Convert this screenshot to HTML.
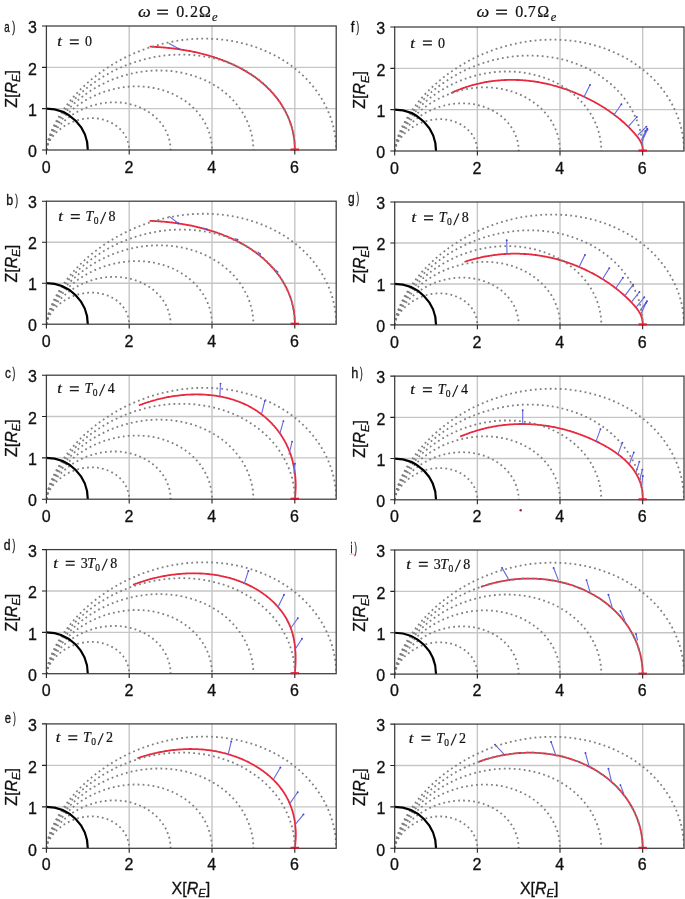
<!DOCTYPE html>
<html><head><meta charset="utf-8"><style>
html,body{margin:0;padding:0;background:#fff;}
svg{display:block;filter:blur(0.4px);}
text{stroke:#111;stroke-width:0.3px;}
text[font-family*="Serif"]{stroke-width:0.2px;}
</style></head><body>
<svg width="685" height="899" viewBox="0 0 685 899">
<rect width="685" height="899" fill="#fff"/>
<text transform="translate(138.70,16.90) scale(1.130,1.000)" x="-0.53" y="0" font-family='"Liberation Serif",serif' font-size="16" font-style="italic" fill="#111">ω</text>
<rect x="157.20" y="9.55" width="10.80" height="1.4" fill="#1a1a1a"/><rect x="157.20" y="13.20" width="10.80" height="1.4" fill="#1a1a1a"/>
<text transform="translate(176.80,16.90)" x="-0.61" y="0" font-family='"Liberation Serif",serif' font-size="16" fill="#111">0</text>
<text transform="translate(185.60,16.90)" x="-1.05" y="0" font-family='"Liberation Serif",serif' font-size="16" fill="#111">.</text>
<text transform="translate(190.60,16.90)" x="-0.70" y="0" font-family='"Liberation Serif",serif' font-size="16" fill="#111">2</text>
<text transform="translate(199.80,16.90)" x="-0.83" y="0" font-family='"Liberation Serif",serif' font-size="16" fill="#111">Ω</text>
<text transform="translate(212.30,20.50)" x="-0.38" y="0" font-family='"Liberation Serif",serif' font-size="12.5" font-style="italic" fill="#111">e</text>
<text transform="translate(477.00,16.90) scale(1.130,1.000)" x="-0.53" y="0" font-family='"Liberation Serif",serif' font-size="16" font-style="italic" fill="#111">ω</text>
<rect x="496.10" y="9.55" width="10.90" height="1.4" fill="#1a1a1a"/><rect x="496.10" y="13.20" width="10.90" height="1.4" fill="#1a1a1a"/>
<text transform="translate(515.80,16.90)" x="-0.61" y="0" font-family='"Liberation Serif",serif' font-size="16" fill="#111">0</text>
<text transform="translate(524.60,16.90)" x="-1.05" y="0" font-family='"Liberation Serif",serif' font-size="16" fill="#111">.</text>
<text transform="translate(528.90,16.90)" x="-1.05" y="0" font-family='"Liberation Serif",serif' font-size="16" fill="#111">7</text>
<text transform="translate(538.10,16.90)" x="-0.83" y="0" font-family='"Liberation Serif",serif' font-size="16" fill="#111">Ω</text>
<text transform="translate(551.00,20.50)" x="-0.38" y="0" font-family='"Liberation Serif",serif' font-size="12.5" font-style="italic" fill="#111">e</text>
<clipPath id="cL0"><rect x="46.40" y="26.00" width="289.80" height="124.00"/></clipPath>
<path d="M129.20,26.00V150.00M212.00,26.00V150.00M294.80,26.00V150.00M46.40,108.67H336.20M46.40,67.33H336.20" stroke="#c6c6c6" stroke-width="1.4" fill="none"/>
<g clip-path="url(#cL0)">
<path d="M149.6,46.7 150.6,46.7 151.5,46.7 152.4,46.8 153.4,46.8 154.3,46.9 155.3,46.9 156.2,47.0 157.2,47.0 158.2,47.1 159.1,47.1 160.1,47.2 161.0,47.3 162.0,47.4 163.0,47.4 164.0,47.5 164.9,47.6 165.9,47.7 166.9,47.8 167.8,47.9 168.8,48.0 169.8,48.1 170.8,48.2 171.8,48.3 172.7,48.4 173.7,48.5 174.7,48.7 175.7,48.8 176.7,48.9 177.7,49.1 178.7,49.2 179.7,49.3 180.6,49.5 181.6,49.6 182.6,49.8 183.6,50.0 184.6,50.1 185.6,50.3 186.6,50.5 187.6,50.6 188.6,50.8 189.6,51.0 190.5,51.2 191.5,51.4 192.5,51.6 193.5,51.8 194.5,52.0 195.5,52.2 196.5,52.4 197.5,52.7 198.4,52.9 199.4,53.1 200.4,53.4 201.4,53.6 202.4,53.8 203.4,54.1 204.3,54.4 205.3,54.6 206.3,54.9 207.3,55.2 208.3,55.4 209.2,55.7 210.2,56.0 211.2,56.3 212.1,56.6 213.1,56.9 214.1,57.2 215.0,57.5 216.0,57.8 217.0,58.1 217.9,58.5 218.9,58.8 219.8,59.1 220.8,59.5 221.7,59.8 222.7,60.2 223.6,60.5 224.5,60.9 225.5,61.3 226.4,61.7 227.3,62.0 228.3,62.4 229.2,62.8 230.1,63.2 231.0,63.6 231.9,64.0 232.9,64.4 233.8,64.9 234.7,65.3 235.6,65.7 236.5,66.2 237.4,66.6 238.3,67.1 239.1,67.5 240.0,68.0 240.9,68.4 241.8,68.9 242.7,69.4 243.5,69.9 244.4,70.4 245.2,70.9 246.1,71.4 246.9,71.9 247.8,72.4 248.6,72.9 249.5,73.5 250.3,74.0 251.1,74.5 251.9,75.1 252.8,75.6 253.6,76.2 254.4,76.8 255.2,77.3 256.0,77.9 256.8,78.5 257.6,79.1 258.3,79.7 259.1,80.3 259.9,80.9 260.6,81.6 261.4,82.2 262.1,82.8 262.9,83.5 263.6,84.1 264.4,84.8 265.1,85.4 265.8,86.1 266.5,86.8 267.2,87.4 267.9,88.1 268.6,88.8 269.3,89.5 270.0,90.2 270.7,90.9 271.3,91.6 272.0,92.4 272.7,93.1 273.3,93.8 273.9,94.6 274.6,95.3 275.2,96.1 275.8,96.8 276.4,97.6 277.0,98.4 277.6,99.1 278.2,99.9 278.8,100.7 279.3,101.5 279.9,102.3 280.4,103.1 281.0,103.9 281.5,104.7 282.0,105.6 282.5,106.4 283.0,107.2 283.5,108.1 284.0,108.9 284.5,109.8 285.0,110.6 285.4,111.5 285.9,112.4 286.3,113.2 286.7,114.1 287.2,115.0 287.6,115.9 288.0,116.8 288.4,117.7 288.7,118.6 289.1,119.5 289.5,120.4 289.8,121.3 290.1,122.2 290.5,123.2 290.8,124.1 291.1,125.0 291.4,126.0 291.7,126.9 291.9,127.9 292.2,128.8 292.4,129.8 292.7,130.8 292.9,131.8 293.1,132.7 293.3,133.7 293.5,134.7 293.7,135.7 293.8,136.7 294.0,137.7 294.1,138.7 294.2,139.7 294.4,140.7 294.5,141.7 294.6,142.8 294.6,143.8 294.7,144.8 294.7,145.8 294.8,146.9 294.8,147.9 294.8,149.0 294.8,150.0" stroke="#e8283c" stroke-width="1.8" fill="none" stroke-linejoin="round"/>
<path d="M169.20,43.40L178.70,48.70" stroke="#6468e2" stroke-width="1.1" fill="none" stroke-linecap="round"/>
<circle cx="178.70" cy="48.70" r="0.95" fill="#4a46cc"/>
<path d="M46.4,150.0 46.4,150.0 46.4,149.9 46.4,149.8 46.4,149.6 46.5,149.4 46.5,149.1 46.5,148.8 46.6,148.4 46.7,148.0 46.8,147.5 47.0,147.0 47.1,146.5 47.3,145.9 47.6,145.3 47.8,144.7 48.1,144.0 48.5,143.2 48.8,142.5 49.3,141.7 49.7,140.9 50.2,140.1 50.8,139.2 51.3,138.4 52.0,137.5 52.6,136.6 53.4,135.7 54.1,134.8 55.0,133.9 55.8,133.0 56.7,132.1 57.7,131.2 58.7,130.3 59.8,129.4 60.9,128.6 62.0,127.7 63.2,126.9 64.4,126.1 65.7,125.3 67.0,124.6 68.4,123.8 69.8,123.1 71.2,122.5 72.7,121.9 74.2,121.3 75.7,120.8 77.2,120.3 78.8,119.8 80.4,119.5 82.0,119.1 83.6,118.8 85.3,118.6 86.9,118.4 88.6,118.3 90.2,118.2 91.9,118.2 93.6,118.2 95.2,118.3 96.9,118.5 98.5,118.7 100.2,119.0 101.8,119.3 103.4,119.7 105.0,120.2 106.5,120.7 108.0,121.3 109.5,121.9 111.0,122.6 112.4,123.4 113.8,124.2 115.1,125.0 116.4,125.9 117.6,126.9 118.8,127.9 119.9,128.9 121.0,130.0 122.0,131.2 123.0,132.3 123.9,133.6 124.7,134.8 125.5,136.1 126.2,137.4 126.8,138.7 127.4,140.1 127.8,141.5 128.3,142.8 128.6,144.3 128.9,145.7 129.0,147.1 129.2,148.6 129.2,150.0" stroke="#808080" stroke-width="1.8" fill="none" stroke-dasharray="1.8 3.2"/>
<path d="M46.4,150.0 46.4,150.0 46.4,149.8 46.4,149.7 46.4,149.4 46.5,149.1 46.5,148.7 46.6,148.2 46.7,147.6 46.9,147.0 47.1,146.3 47.3,145.6 47.5,144.8 47.8,143.9 48.2,143.0 48.6,142.0 49.0,140.9 49.5,139.9 50.1,138.7 50.7,137.6 51.4,136.4 52.1,135.1 52.9,133.9 53.8,132.6 54.8,131.3 55.8,129.9 56.9,128.6 58.0,127.2 59.3,125.9 60.6,124.5 61.9,123.2 63.4,121.8 64.9,120.5 66.5,119.2 68.1,117.9 69.8,116.6 71.6,115.3 73.5,114.1 75.4,113.0 77.4,111.8 79.4,110.8 81.5,109.7 83.6,108.7 85.8,107.8 88.0,107.0 90.3,106.2 92.6,105.4 95.0,104.8 97.4,104.2 99.8,103.7 102.2,103.2 104.7,102.9 107.2,102.6 109.7,102.4 112.2,102.3 114.7,102.3 117.2,102.3 119.7,102.5 122.2,102.7 124.6,103.1 127.1,103.5 129.5,104.0 131.9,104.6 134.3,105.3 136.6,106.1 138.9,107.0 141.1,107.9 143.3,108.9 145.4,110.1 147.5,111.3 149.5,112.6 151.4,113.9 153.2,115.3 155.0,116.8 156.7,118.4 158.3,120.1 159.9,121.8 161.3,123.5 162.6,125.3 163.9,127.2 165.0,129.1 166.1,131.1 167.0,133.1 167.8,135.1 168.6,137.2 169.2,139.3 169.7,141.4 170.1,143.5 170.4,145.7 170.5,147.8 170.6,150.0" stroke="#808080" stroke-width="1.8" fill="none" stroke-dasharray="1.8 3.2"/>
<path d="M46.4,150.0 46.4,149.9 46.4,149.8 46.4,149.5 46.5,149.2 46.5,148.7 46.6,148.2 46.7,147.6 46.8,146.8 47.0,146.0 47.3,145.1 47.6,144.1 47.9,143.0 48.3,141.8 48.7,140.6 49.3,139.3 49.9,137.9 50.5,136.5 51.3,135.0 52.1,133.4 53.0,131.8 54.0,130.2 55.1,128.5 56.3,126.8 57.5,125.0 58.9,123.2 60.4,121.4 61.9,119.6 63.5,117.8 65.3,116.0 67.1,114.2 69.0,112.4 71.0,110.6 73.2,108.9 75.4,107.1 77.6,105.4 80.0,103.8 82.5,102.2 85.0,100.6 87.7,99.1 90.4,97.7 93.2,96.3 96.0,95.0 98.9,93.8 101.9,92.6 104.9,91.5 108.0,90.6 111.2,89.7 114.4,88.9 117.6,88.2 120.8,87.6 124.1,87.2 127.4,86.8 130.8,86.5 134.1,86.4 137.4,86.4 140.8,86.5 144.1,86.7 147.4,87.0 150.7,87.4 154.0,88.0 157.2,88.7 160.4,89.5 163.5,90.4 166.6,91.5 169.7,92.6 172.7,93.9 175.6,95.3 178.4,96.8 181.1,98.4 183.8,100.1 186.4,101.9 188.9,103.8 191.2,105.8 193.5,107.9 195.6,110.1 197.7,112.3 199.6,114.7 201.4,117.1 203.0,119.6 204.6,122.2 206.0,124.8 207.2,127.4 208.3,130.2 209.3,132.9 210.1,135.7 210.8,138.5 211.3,141.4 211.7,144.2 211.9,147.1 212.0,150.0" stroke="#808080" stroke-width="1.8" fill="none" stroke-dasharray="1.8 3.2"/>
<path d="M46.4,150.0 46.4,149.9 46.4,149.7 46.4,149.4 46.5,149.0 46.5,148.4 46.6,147.8 46.8,147.0 47.0,146.0 47.2,145.0 47.5,143.9 47.8,142.6 48.3,141.3 48.8,139.8 49.3,138.3 50.0,136.6 50.7,134.9 51.6,133.1 52.5,131.2 53.5,129.3 54.7,127.3 55.9,125.2 57.3,123.1 58.7,121.0 60.3,118.8 62.0,116.5 63.8,114.3 65.8,112.0 67.8,109.8 70.0,107.5 72.3,105.3 74.7,103.0 77.2,100.8 79.8,98.6 82.6,96.4 85.5,94.3 88.4,92.2 91.5,90.2 94.7,88.3 98.0,86.4 101.4,84.6 104.9,82.9 108.4,81.2 112.1,79.7 115.8,78.3 119.6,76.9 123.4,75.7 127.4,74.6 131.4,73.6 135.4,72.8 139.5,72.0 143.6,71.4 147.7,71.0 151.8,70.7 156.0,70.5 160.2,70.5 164.3,70.6 168.5,70.8 172.7,71.2 176.8,71.8 180.9,72.5 184.9,73.4 188.9,74.4 192.8,75.5 196.7,76.8 200.5,78.3 204.2,79.8 207.9,81.6 211.4,83.4 214.8,85.4 218.2,87.6 221.4,89.8 224.5,92.2 227.4,94.7 230.3,97.4 233.0,100.1 235.5,102.9 237.9,105.9 240.1,108.9 242.2,112.0 244.1,115.2 245.8,118.5 247.4,121.8 248.8,125.2 250.0,128.6 251.0,132.1 251.9,135.7 252.6,139.2 253.0,142.8 253.3,146.4 253.4,150.0" stroke="#808080" stroke-width="1.8" fill="none" stroke-dasharray="1.8 3.2"/>
<path d="M46.4,150.0 46.4,149.9 46.4,149.7 46.4,149.3 46.5,148.8 46.6,148.1 46.7,147.3 46.8,146.3 47.1,145.2 47.4,144.0 47.7,142.6 48.1,141.1 48.6,139.5 49.2,137.8 49.9,135.9 50.7,134.0 51.6,131.9 52.6,129.7 53.7,127.5 55.0,125.1 56.3,122.7 57.8,120.3 59.5,117.7 61.2,115.1 63.1,112.5 65.1,109.9 67.3,107.2 69.6,104.5 72.1,101.7 74.7,99.0 77.4,96.3 80.3,93.6 83.4,90.9 86.5,88.3 89.8,85.7 93.3,83.2 96.8,80.7 100.5,78.3 104.4,75.9 108.3,73.7 112.4,71.5 116.5,69.4 120.8,67.5 125.2,65.6 129.7,63.9 134.2,62.3 138.9,60.9 143.6,59.5 148.3,58.4 153.2,57.3 158.1,56.5 163.0,55.7 167.9,55.2 172.9,54.8 177.9,54.6 182.9,54.6 187.9,54.7 192.9,55.0 197.9,55.5 202.8,56.2 207.7,57.0 212.6,58.0 217.4,59.2 222.1,60.6 226.8,62.2 231.3,63.9 235.8,65.8 240.1,67.9 244.4,70.1 248.5,72.5 252.5,75.1 256.4,77.8 260.1,80.7 263.6,83.7 267.0,86.8 270.3,90.1 273.3,93.5 276.2,97.0 278.9,100.7 281.4,104.4 283.6,108.2 285.7,112.2 287.6,116.2 289.3,120.2 290.7,124.4 292.0,128.5 293.0,132.8 293.8,137.1 294.3,141.4 294.7,145.7 294.8,150.0" stroke="#808080" stroke-width="1.8" fill="none" stroke-dasharray="1.8 3.2"/>
<path d="M46.4,150.0 46.4,149.9 46.4,149.6 46.4,149.2 46.5,148.6 46.6,147.8 46.7,146.9 46.9,145.7 47.2,144.5 47.5,143.0 47.9,141.4 48.4,139.7 49.0,137.8 49.7,135.7 50.5,133.6 51.4,131.3 52.5,128.9 53.6,126.3 55.0,123.7 56.4,121.0 58.0,118.2 59.7,115.3 61.6,112.4 63.7,109.3 65.9,106.3 68.3,103.2 70.8,100.0 73.5,96.9 76.4,93.7 79.4,90.5 82.6,87.4 86.0,84.2 89.5,81.1 93.2,78.0 97.1,75.0 101.1,72.0 105.3,69.1 109.6,66.3 114.0,63.6 118.6,60.9 123.4,58.4 128.2,56.0 133.2,53.7 138.3,51.6 143.5,49.6 148.9,47.7 154.3,46.0 159.8,44.5 165.3,43.1 171.0,41.9 176.7,40.9 182.4,40.0 188.2,39.4 194.0,38.9 199.9,38.7 205.7,38.6 211.5,38.8 217.4,39.2 223.2,39.7 228.9,40.5 234.6,41.5 240.3,42.7 245.9,44.1 251.4,45.7 256.8,47.5 262.1,49.6 267.3,51.8 272.4,54.2 277.4,56.8 282.2,59.6 286.9,62.6 291.4,65.8 295.7,69.1 299.8,72.6 303.8,76.3 307.6,80.1 311.1,84.1 314.5,88.2 317.6,92.4 320.5,96.8 323.2,101.3 325.6,105.8 327.8,110.5 329.8,115.3 331.5,120.1 332.9,125.0 334.1,129.9 335.0,134.9 335.7,139.9 336.1,145.0 336.2,150.0" stroke="#808080" stroke-width="1.8" fill="none" stroke-dasharray="1.8 3.2"/>
<path d="M87.80,150.00 A41.40,41.33 0 0 0 46.40,108.67" stroke="#000" stroke-width="2.2" fill="none"/>
</g>
<rect x="46.40" y="26.00" width="289.80" height="124.00" stroke="#3c3c3c" stroke-width="1.25" fill="none"/>
<rect x="290.60" y="148.50" width="8.4" height="2.0" fill="#e0142e"/>
<path d="M46.40,150.00v4.4M129.20,150.00v4.4M212.00,150.00v4.4M294.80,150.00v4.4M46.40,150.00h-4.4M46.40,108.67h-4.4M46.40,67.33h-4.4M46.40,26.00h-4.4" stroke="#222" stroke-width="1.1" fill="none"/>
<text x="41.65" y="173.00" font-family='"Liberation Sans",sans-serif' font-size="16" fill="#111">0</text>
<text x="124.45" y="173.00" font-family='"Liberation Sans",sans-serif' font-size="16" fill="#111">2</text>
<text x="207.30" y="173.00" font-family='"Liberation Sans",sans-serif' font-size="16" fill="#111">4</text>
<text x="290.00" y="173.00" font-family='"Liberation Sans",sans-serif' font-size="16" fill="#111">6</text>
<text x="27.93" y="157.20" font-family='"Liberation Sans",sans-serif' font-size="16" fill="#111">0</text>
<text x="28.08" y="115.87" font-family='"Liberation Sans",sans-serif' font-size="16" fill="#111">1</text>
<text x="28.11" y="74.53" font-family='"Liberation Sans",sans-serif' font-size="16" fill="#111">2</text>
<text x="28.00" y="33.20" font-family='"Liberation Sans",sans-serif' font-size="16" fill="#111">3</text>
<text transform="translate(17.00,88.90) rotate(-90)" x="-18.84" y="0" font-family='"Liberation Sans",sans-serif' font-size="16" fill="#111">Z[<tspan font-style="italic">R</tspan><tspan font-style="italic" font-size="11.20" dy="3.3">E</tspan><tspan dy="-3.3">]</tspan></text>
<text transform="translate(4.65,32.30) scale(0.695,1.000)" x="-0.59" y="0" font-family='"Liberation Sans",sans-serif' font-size="14" fill="#111">a</text>
<text transform="translate(12.25,32.30) scale(0.647,1.000)" x="-0.08" y="0" font-family='"Liberation Sans",sans-serif' font-size="14" fill="#111">)</text>
<text transform="translate(58.00,46.40) scale(1.200,1.000)" x="-0.62" y="0" font-family='"Liberation Serif",serif' font-size="14" font-style="italic" fill="#111">t</text>
<rect x="69.80" y="39.33" width="9.00" height="1.35" fill="#1a1a1a"/><rect x="69.80" y="43.02" width="9.00" height="1.35" fill="#1a1a1a"/>
<text transform="translate(85.50,46.40)" x="-0.53" y="0" font-family='"Liberation Serif",serif' font-size="14" fill="#111">0</text>
<clipPath id="cL1"><rect x="46.40" y="201.20" width="289.80" height="123.00"/></clipPath>
<path d="M129.20,201.20V324.20M212.00,201.20V324.20M294.80,201.20V324.20M46.40,283.20H336.20M46.40,242.20H336.20" stroke="#c6c6c6" stroke-width="1.4" fill="none"/>
<g clip-path="url(#cL1)">
<path d="M149.6,220.8 150.6,220.9 151.5,220.9 152.5,221.0 153.4,221.0 154.4,221.0 155.3,221.1 156.3,221.1 157.2,221.2 158.2,221.3 159.2,221.3 160.1,221.4 161.1,221.5 162.1,221.6 163.0,221.6 164.0,221.7 165.0,221.8 165.9,221.9 166.9,222.0 167.9,222.1 168.9,222.2 169.9,222.3 170.8,222.4 171.8,222.5 172.8,222.7 173.8,222.8 174.8,222.9 175.8,223.0 176.7,223.2 177.7,223.3 178.7,223.5 179.7,223.6 180.7,223.8 181.7,223.9 182.7,224.1 183.7,224.3 184.6,224.4 185.6,224.6 186.6,224.8 187.6,225.0 188.6,225.1 189.6,225.3 190.6,225.5 191.6,225.7 192.6,225.9 193.5,226.2 194.5,226.4 195.5,226.6 196.5,226.8 197.5,227.0 198.5,227.3 199.5,227.5 200.4,227.8 201.4,228.0 202.4,228.3 203.4,228.5 204.4,228.8 205.3,229.0 206.3,229.3 207.3,229.6 208.2,229.9 209.2,230.2 210.2,230.5 211.2,230.8 212.1,231.1 213.1,231.4 214.0,231.7 215.0,232.0 216.0,232.3 216.9,232.6 217.9,233.0 218.8,233.3 219.8,233.7 220.7,234.0 221.7,234.4 222.6,234.7 223.5,235.1 224.5,235.5 225.4,235.8 226.3,236.2 227.3,236.6 228.2,237.0 229.1,237.4 230.0,237.8 231.0,238.2 231.9,238.6 232.8,239.0 233.7,239.5 234.6,239.9 235.5,240.3 236.4,240.8 237.3,241.2 238.2,241.7 239.0,242.1 239.9,242.6 240.8,243.1 241.7,243.6 242.5,244.0 243.4,244.5 244.3,245.0 245.1,245.5 246.0,246.0 246.8,246.6 247.7,247.1 248.5,247.6 249.3,248.1 250.2,248.7 251.0,249.2 251.8,249.8 252.6,250.3 253.5,250.9 254.3,251.4 255.1,252.0 255.9,252.6 256.6,253.2 257.4,253.8 258.2,254.4 259.0,255.0 259.8,255.6 260.5,256.2 261.3,256.9 262.0,257.5 262.8,258.1 263.5,258.8 264.3,259.4 265.0,260.1 265.7,260.7 266.4,261.4 267.1,262.1 267.8,262.8 268.5,263.5 269.2,264.2 269.9,264.9 270.6,265.6 271.2,266.3 271.9,267.0 272.6,267.7 273.2,268.5 273.9,269.2 274.5,269.9 275.1,270.7 275.7,271.5 276.3,272.2 276.9,273.0 277.5,273.8 278.1,274.5 278.7,275.3 279.3,276.1 279.8,276.9 280.4,277.7 280.9,278.5 281.5,279.3 282.0,280.1 282.5,281.0 283.0,281.8 283.5,282.6 284.0,283.5 284.5,284.3 284.9,285.2 285.4,286.0 285.9,286.9 286.3,287.7 286.7,288.6 287.1,289.5 287.6,290.4 288.0,291.3 288.4,292.1 288.7,293.0 289.1,293.9 289.5,294.8 289.8,295.8 290.1,296.7 290.5,297.6 290.8,298.5 291.1,299.5 291.4,300.4 291.7,301.3 291.9,302.3 292.2,303.2 292.4,304.2 292.7,305.1 292.9,306.1 293.1,307.1 293.3,308.0 293.5,309.0 293.7,310.0 293.8,311.0 294.0,312.0 294.1,313.0 294.3,314.0 294.4,315.0 294.5,316.0 294.6,317.0 294.6,318.0 294.7,319.1 294.7,320.1 294.8,321.1 294.8,322.1 294.8,323.2 294.8,324.2" stroke="#e8283c" stroke-width="1.8" fill="none" stroke-linejoin="round"/>
<path d="M169.20,216.40L178.20,223.20M204.50,228.20L207.00,229.50M235.00,238.50L237.50,239.80M258.00,252.00L260.00,254.00M276.00,270.00L277.50,272.00" stroke="#6468e2" stroke-width="1.1" fill="none" stroke-linecap="round"/>
<circle cx="178.20" cy="223.20" r="0.95" fill="#4a46cc"/><circle cx="207.00" cy="229.50" r="0.95" fill="#4a46cc"/><circle cx="237.50" cy="239.80" r="0.95" fill="#4a46cc"/><circle cx="260.00" cy="254.00" r="0.95" fill="#4a46cc"/><circle cx="277.50" cy="272.00" r="0.95" fill="#4a46cc"/>
<path d="M46.4,324.2 46.4,324.2 46.4,324.1 46.4,324.0 46.4,323.8 46.5,323.6 46.5,323.3 46.5,323.0 46.6,322.6 46.7,322.2 46.8,321.8 47.0,321.3 47.1,320.7 47.3,320.2 47.6,319.5 47.8,318.9 48.1,318.2 48.5,317.5 48.8,316.8 49.3,316.0 49.7,315.2 50.2,314.4 50.8,313.5 51.3,312.7 52.0,311.8 52.6,310.9 53.4,310.0 54.1,309.1 55.0,308.2 55.8,307.3 56.7,306.4 57.7,305.6 58.7,304.7 59.8,303.8 60.9,302.9 62.0,302.1 63.2,301.3 64.4,300.5 65.7,299.7 67.0,299.0 68.4,298.2 69.8,297.6 71.2,296.9 72.7,296.3 74.2,295.7 75.7,295.2 77.2,294.7 78.8,294.3 80.4,293.9 82.0,293.6 83.6,293.3 85.3,293.0 86.9,292.9 88.6,292.7 90.2,292.7 91.9,292.6 93.6,292.7 95.2,292.8 96.9,292.9 98.5,293.2 100.2,293.4 101.8,293.8 103.4,294.2 105.0,294.6 106.5,295.2 108.0,295.7 109.5,296.4 111.0,297.1 112.4,297.8 113.8,298.6 115.1,299.4 116.4,300.3 117.6,301.3 118.8,302.3 119.9,303.3 121.0,304.4 122.0,305.5 123.0,306.7 123.9,307.9 124.7,309.1 125.5,310.4 126.2,311.7 126.8,313.0 127.4,314.4 127.8,315.7 128.3,317.1 128.6,318.5 128.9,319.9 129.0,321.3 129.2,322.8 129.2,324.2" stroke="#808080" stroke-width="1.8" fill="none" stroke-dasharray="1.8 3.2"/>
<path d="M46.4,324.2 46.4,324.2 46.4,324.1 46.4,323.9 46.4,323.6 46.5,323.3 46.5,322.9 46.6,322.4 46.7,321.8 46.9,321.2 47.1,320.5 47.3,319.8 47.5,319.0 47.8,318.1 48.2,317.2 48.6,316.2 49.0,315.2 49.5,314.1 50.1,313.0 50.7,311.9 51.4,310.7 52.1,309.5 52.9,308.2 53.8,306.9 54.8,305.6 55.8,304.3 56.9,303.0 58.0,301.6 59.3,300.3 60.6,298.9 61.9,297.6 63.4,296.2 64.9,294.9 66.5,293.6 68.1,292.3 69.8,291.1 71.6,289.8 73.5,288.6 75.4,287.5 77.4,286.3 79.4,285.3 81.5,284.2 83.6,283.3 85.8,282.4 88.0,281.5 90.3,280.7 92.6,280.0 95.0,279.3 97.4,278.7 99.8,278.2 102.2,277.8 104.7,277.4 107.2,277.2 109.7,277.0 112.2,276.9 114.7,276.9 117.2,276.9 119.7,277.1 122.2,277.3 124.6,277.7 127.1,278.1 129.5,278.6 131.9,279.2 134.3,279.9 136.6,280.6 138.9,281.5 141.1,282.4 143.3,283.5 145.4,284.6 147.5,285.8 149.5,287.1 151.4,288.4 153.2,289.8 155.0,291.3 156.7,292.9 158.3,294.5 159.9,296.2 161.3,297.9 162.6,299.7 163.9,301.6 165.0,303.5 166.1,305.4 167.0,307.4 167.8,309.4 168.6,311.5 169.2,313.6 169.7,315.7 170.1,317.8 170.4,319.9 170.5,322.1 170.6,324.2" stroke="#808080" stroke-width="1.8" fill="none" stroke-dasharray="1.8 3.2"/>
<path d="M46.4,324.2 46.4,324.2 46.4,324.0 46.4,323.8 46.5,323.4 46.5,323.0 46.6,322.4 46.7,321.8 46.8,321.1 47.0,320.2 47.3,319.3 47.6,318.3 47.9,317.3 48.3,316.1 48.7,314.9 49.3,313.6 49.9,312.2 50.5,310.8 51.3,309.3 52.1,307.8 53.0,306.2 54.0,304.5 55.1,302.9 56.3,301.2 57.5,299.4 58.9,297.7 60.4,295.9 61.9,294.1 63.5,292.3 65.3,290.5 67.1,288.7 69.0,286.9 71.0,285.1 73.2,283.4 75.4,281.7 77.6,280.0 80.0,278.4 82.5,276.8 85.0,275.2 87.7,273.7 90.4,272.3 93.2,270.9 96.0,269.6 98.9,268.4 101.9,267.3 104.9,266.2 108.0,265.3 111.2,264.4 114.4,263.6 117.6,262.9 120.8,262.3 124.1,261.9 127.4,261.5 130.8,261.2 134.1,261.1 137.4,261.1 140.8,261.2 144.1,261.4 147.4,261.7 150.7,262.1 154.0,262.7 157.2,263.4 160.4,264.2 163.5,265.1 166.6,266.1 169.7,267.3 172.7,268.5 175.6,269.9 178.4,271.4 181.1,273.0 183.8,274.7 186.4,276.5 188.9,278.4 191.2,280.3 193.5,282.4 195.6,284.6 197.7,286.8 199.6,289.2 201.4,291.6 203.0,294.0 204.6,296.6 206.0,299.2 207.2,301.8 208.3,304.5 209.3,307.2 210.1,310.0 210.8,312.8 211.3,315.6 211.7,318.5 211.9,321.3 212.0,324.2" stroke="#808080" stroke-width="1.8" fill="none" stroke-dasharray="1.8 3.2"/>
<path d="M46.4,324.2 46.4,324.1 46.4,324.0 46.4,323.6 46.5,323.2 46.5,322.6 46.6,322.0 46.8,321.2 47.0,320.3 47.2,319.2 47.5,318.1 47.8,316.9 48.3,315.5 48.8,314.1 49.3,312.6 50.0,310.9 50.7,309.2 51.6,307.4 52.5,305.6 53.5,303.7 54.7,301.7 55.9,299.6 57.3,297.5 58.7,295.4 60.3,293.2 62.0,291.0 63.8,288.8 65.8,286.6 67.8,284.3 70.0,282.1 72.3,279.8 74.7,277.6 77.2,275.4 79.8,273.2 82.6,271.1 85.5,269.0 88.4,266.9 91.5,264.9 94.7,263.0 98.0,261.1 101.4,259.3 104.9,257.6 108.4,256.0 112.1,254.5 115.8,253.0 119.6,251.7 123.4,250.5 127.4,249.4 131.4,248.4 135.4,247.6 139.5,246.9 143.6,246.3 147.7,245.8 151.8,245.5 156.0,245.3 160.2,245.3 164.3,245.4 168.5,245.7 172.7,246.1 176.8,246.6 180.9,247.3 184.9,248.2 188.9,249.2 192.8,250.3 196.7,251.6 200.5,253.0 204.2,254.6 207.9,256.3 211.4,258.2 214.8,260.2 218.2,262.3 221.4,264.5 224.5,266.9 227.4,269.4 230.3,272.0 233.0,274.7 235.5,277.5 237.9,280.4 240.1,283.4 242.2,286.5 244.1,289.7 245.8,292.9 247.4,296.2 248.8,299.6 250.0,303.0 251.0,306.5 251.9,310.0 252.6,313.5 253.0,317.1 253.3,320.6 253.4,324.2" stroke="#808080" stroke-width="1.8" fill="none" stroke-dasharray="1.8 3.2"/>
<path d="M46.4,324.2 46.4,324.1 46.4,323.9 46.4,323.5 46.5,323.0 46.6,322.3 46.7,321.5 46.8,320.6 47.1,319.5 47.4,318.3 47.7,316.9 48.1,315.4 48.6,313.8 49.2,312.1 49.9,310.2 50.7,308.3 51.6,306.2 52.6,304.1 53.7,301.9 55.0,299.5 56.3,297.2 57.8,294.7 59.5,292.2 61.2,289.6 63.1,287.0 65.1,284.4 67.3,281.7 69.6,279.0 72.1,276.3 74.7,273.6 77.4,270.9 80.3,268.3 83.4,265.6 86.5,263.0 89.8,260.4 93.3,257.9 96.8,255.4 100.5,253.0 104.4,250.7 108.3,248.5 112.4,246.3 116.5,244.3 120.8,242.3 125.2,240.5 129.7,238.8 134.2,237.2 138.9,235.8 143.6,234.5 148.3,233.3 153.2,232.3 158.1,231.4 163.0,230.7 167.9,230.2 172.9,229.8 177.9,229.6 182.9,229.5 187.9,229.7 192.9,230.0 197.9,230.4 202.8,231.1 207.7,231.9 212.6,233.0 217.4,234.2 222.1,235.5 226.8,237.1 231.3,238.8 235.8,240.7 240.1,242.8 244.4,245.0 248.5,247.4 252.5,249.9 256.4,252.6 260.1,255.4 263.6,258.4 267.0,261.5 270.3,264.8 273.3,268.2 276.2,271.7 278.9,275.3 281.4,279.0 283.6,282.8 285.7,286.7 287.6,290.6 289.3,294.7 290.7,298.8 292.0,302.9 293.0,307.1 293.8,311.4 294.3,315.6 294.7,319.9 294.8,324.2" stroke="#808080" stroke-width="1.8" fill="none" stroke-dasharray="1.8 3.2"/>
<path d="M46.4,324.2 46.4,324.1 46.4,323.9 46.4,323.4 46.5,322.8 46.6,322.0 46.7,321.1 46.9,320.0 47.2,318.7 47.5,317.3 47.9,315.7 48.4,313.9 49.0,312.1 49.7,310.0 50.5,307.9 51.4,305.6 52.5,303.2 53.6,300.7 55.0,298.1 56.4,295.4 58.0,292.7 59.7,289.8 61.6,286.9 63.7,283.9 65.9,280.8 68.3,277.7 70.8,274.6 73.5,271.5 76.4,268.3 79.4,265.2 82.6,262.1 86.0,258.9 89.5,255.9 93.2,252.8 97.1,249.8 101.1,246.9 105.3,244.0 109.6,241.2 114.0,238.5 118.6,235.9 123.4,233.4 128.2,231.0 133.2,228.7 138.3,226.6 143.5,224.6 148.9,222.7 154.3,221.0 159.8,219.5 165.3,218.1 171.0,217.0 176.7,215.9 182.4,215.1 188.2,214.5 194.0,214.0 199.9,213.8 205.7,213.7 211.5,213.9 217.4,214.3 223.2,214.8 228.9,215.6 234.6,216.6 240.3,217.8 245.9,219.2 251.4,220.8 256.8,222.6 262.1,224.6 267.3,226.8 272.4,229.2 277.4,231.8 282.2,234.6 286.9,237.5 291.4,240.7 295.7,244.0 299.8,247.5 303.8,251.1 307.6,254.9 311.1,258.8 314.5,262.9 317.6,267.1 320.5,271.4 323.2,275.9 325.6,280.4 327.8,285.0 329.8,289.7 331.5,294.5 332.9,299.4 334.1,304.3 335.0,309.2 335.7,314.2 336.1,319.2 336.2,324.2" stroke="#808080" stroke-width="1.8" fill="none" stroke-dasharray="1.8 3.2"/>
<path d="M87.80,324.20 A41.40,41.00 0 0 0 46.40,283.20" stroke="#000" stroke-width="2.2" fill="none"/>
</g>
<rect x="46.40" y="201.20" width="289.80" height="123.00" stroke="#3c3c3c" stroke-width="1.25" fill="none"/>
<rect x="290.60" y="322.70" width="8.4" height="2.0" fill="#e0142e"/>
<path d="M46.40,324.20v4.4M129.20,324.20v4.4M212.00,324.20v4.4M294.80,324.20v4.4M46.40,324.20h-4.4M46.40,283.20h-4.4M46.40,242.20h-4.4M46.40,201.20h-4.4" stroke="#222" stroke-width="1.1" fill="none"/>
<text x="41.65" y="347.10" font-family='"Liberation Sans",sans-serif' font-size="16" fill="#111">0</text>
<text x="124.45" y="347.10" font-family='"Liberation Sans",sans-serif' font-size="16" fill="#111">2</text>
<text x="207.30" y="347.10" font-family='"Liberation Sans",sans-serif' font-size="16" fill="#111">4</text>
<text x="290.00" y="347.10" font-family='"Liberation Sans",sans-serif' font-size="16" fill="#111">6</text>
<text x="27.93" y="331.40" font-family='"Liberation Sans",sans-serif' font-size="16" fill="#111">0</text>
<text x="28.08" y="290.40" font-family='"Liberation Sans",sans-serif' font-size="16" fill="#111">1</text>
<text x="28.11" y="249.40" font-family='"Liberation Sans",sans-serif' font-size="16" fill="#111">2</text>
<text x="28.00" y="208.40" font-family='"Liberation Sans",sans-serif' font-size="16" fill="#111">3</text>
<text transform="translate(17.00,263.60) rotate(-90)" x="-18.84" y="0" font-family='"Liberation Sans",sans-serif' font-size="16" fill="#111">Z[<tspan font-style="italic">R</tspan><tspan font-style="italic" font-size="11.20" dy="3.3">E</tspan><tspan dy="-3.3">]</tspan></text>
<text transform="translate(7.05,205.10) scale(0.889,1.000)" x="-0.90" y="0" font-family='"Liberation Sans",sans-serif' font-size="14" fill="#111">b</text>
<text transform="translate(15.35,205.10) scale(0.593,1.000)" x="-0.08" y="0" font-family='"Liberation Sans",sans-serif' font-size="14" fill="#111">)</text>
<text transform="translate(59.00,221.10) scale(1.200,1.000)" x="-0.62" y="0" font-family='"Liberation Serif",serif' font-size="14" font-style="italic" fill="#111">t</text>
<rect x="70.80" y="214.02" width="9.00" height="1.35" fill="#1a1a1a"/><rect x="70.80" y="217.72" width="9.00" height="1.35" fill="#1a1a1a"/>
<text transform="translate(86.50,221.10)" x="-0.92" y="0" font-family='"Liberation Serif",serif' font-size="14" font-style="italic" fill="#111">T</text>
<text transform="translate(94.10,223.90)" x="-0.36" y="0" font-family='"Liberation Serif",serif' font-size="9.5" fill="#111">0</text>
<path d="M100.50,223.90L105.70,212.10" stroke="#1a1a1a" stroke-width="1.15"/>
<text transform="translate(109.10,221.10)" x="-0.53" y="0" font-family='"Liberation Serif",serif' font-size="14" fill="#111">8</text>
<clipPath id="cL2"><rect x="46.40" y="375.20" width="289.80" height="124.00"/></clipPath>
<path d="M129.20,375.20V499.20M212.00,375.20V499.20M294.80,375.20V499.20M46.40,457.87H336.20M46.40,416.53H336.20" stroke="#c6c6c6" stroke-width="1.4" fill="none"/>
<g clip-path="url(#cL2)">
<path d="M138.9,405.4 139.9,405.0 140.9,404.6 141.9,404.3 142.9,403.9 143.9,403.5 144.9,403.2 145.9,402.8 146.9,402.5 148.0,402.1 149.0,401.8 150.1,401.5 151.1,401.2 152.2,400.9 153.2,400.6 154.3,400.3 155.4,400.0 156.4,399.7 157.5,399.4 158.6,399.1 159.7,398.9 160.8,398.6 161.9,398.4 163.0,398.1 164.1,397.9 165.2,397.6 166.3,397.4 167.4,397.2 168.5,397.0 169.6,396.8 170.8,396.6 171.9,396.4 173.0,396.2 174.1,396.1 175.3,395.9 176.4,395.8 177.6,395.6 178.7,395.5 179.8,395.3 181.0,395.2 182.1,395.1 183.3,395.0 184.4,394.9 185.6,394.8 186.7,394.7 187.9,394.7 189.0,394.6 190.2,394.6 191.3,394.5 192.5,394.5 193.6,394.5 194.8,394.4 195.9,394.4 197.1,394.4 198.3,394.4 199.4,394.5 200.6,394.5 201.7,394.5 202.9,394.6 204.0,394.6 205.2,394.7 206.3,394.8 207.5,394.9 208.6,395.0 209.7,395.1 210.9,395.2 212.0,395.3 213.2,395.4 214.3,395.6 215.4,395.7 216.5,395.9 217.7,396.1 218.8,396.3 219.9,396.5 221.0,396.7 222.1,396.9 223.3,397.1 224.4,397.4 225.5,397.6 226.6,397.9 227.7,398.2 228.8,398.5 229.8,398.7 230.9,399.1 232.0,399.4 233.1,399.7 234.2,400.0 235.2,400.4 236.3,400.8 237.3,401.1 238.4,401.5 239.4,401.9 240.5,402.3 241.5,402.8 242.5,403.2 243.5,403.6 244.6,404.1 245.6,404.6 246.6,405.0 247.6,405.5 248.6,406.0 249.5,406.6 250.5,407.1 251.5,407.6 252.4,408.2 253.4,408.8 254.3,409.3 255.3,409.9 256.2,410.5 257.1,411.1 258.0,411.8 259.0,412.4 259.9,413.0 260.7,413.7 261.6,414.4 262.5,415.0 263.4,415.7 264.2,416.4 265.1,417.1 265.9,417.9 266.7,418.6 267.5,419.3 268.4,420.1 269.2,420.8 269.9,421.6 270.7,422.4 271.5,423.2 272.3,424.0 273.0,424.8 273.8,425.6 274.5,426.4 275.2,427.3 275.9,428.1 276.6,429.0 277.3,429.8 278.0,430.7 278.6,431.6 279.3,432.5 279.9,433.4 280.6,434.3 281.2,435.2 281.8,436.2 282.4,437.1 282.9,438.0 283.5,439.0 284.1,439.9 284.6,440.9 285.1,441.9 285.7,442.9 286.2,443.9 286.7,444.9 287.1,445.9 287.6,446.9 288.1,447.9 288.5,448.9 288.9,450.0 289.3,451.0 289.7,452.1 290.1,453.1 290.5,454.2 290.9,455.2 291.2,456.3 291.6,457.4 291.9,458.5 292.2,459.6 292.5,460.7 292.8,461.8 293.0,462.9 293.3,464.0 293.5,465.1 293.8,466.2 294.0,467.3 294.2,468.4 294.4,469.5 294.6,470.7 294.7,471.8 294.9,472.9 295.0,474.1 295.1,475.2 295.3,476.3 295.4,477.5 295.4,478.6 295.5,479.8 295.6,480.9 295.6,482.0 295.7,483.2 295.7,484.3 295.7,485.5 295.7,486.6 295.7,487.8 295.6,488.9 295.6,490.1 295.5,491.2 295.5,492.4 295.4,493.5 295.3,494.7 295.2,495.8 295.1,496.9 294.9,498.1 294.8,499.2" stroke="#e8283c" stroke-width="1.8" fill="none" stroke-linejoin="round"/>
<path d="M219.80,396.10L220.50,383.60M261.60,413.80L264.80,401.00M279.90,433.40L283.40,421.10M289.10,454.10L292.10,441.60M294.00,473.30L294.90,463.70" stroke="#6468e2" stroke-width="1.1" fill="none" stroke-linecap="round"/>
<circle cx="220.50" cy="383.60" r="0.95" fill="#4a46cc"/><circle cx="264.80" cy="401.00" r="0.95" fill="#4a46cc"/><circle cx="283.40" cy="421.10" r="0.95" fill="#4a46cc"/><circle cx="292.10" cy="441.60" r="0.95" fill="#4a46cc"/><circle cx="294.90" cy="463.70" r="0.95" fill="#4a46cc"/>
<path d="M46.4,499.2 46.4,499.2 46.4,499.1 46.4,499.0 46.4,498.8 46.5,498.6 46.5,498.3 46.5,498.0 46.6,497.6 46.7,497.2 46.8,496.7 47.0,496.2 47.1,495.7 47.3,495.1 47.6,494.5 47.8,493.9 48.1,493.2 48.5,492.4 48.8,491.7 49.3,490.9 49.7,490.1 50.2,489.3 50.8,488.4 51.3,487.6 52.0,486.7 52.6,485.8 53.4,484.9 54.1,484.0 55.0,483.1 55.8,482.2 56.7,481.3 57.7,480.4 58.7,479.5 59.8,478.6 60.9,477.8 62.0,476.9 63.2,476.1 64.4,475.3 65.7,474.5 67.0,473.8 68.4,473.0 69.8,472.3 71.2,471.7 72.7,471.1 74.2,470.5 75.7,470.0 77.2,469.5 78.8,469.0 80.4,468.7 82.0,468.3 83.6,468.0 85.3,467.8 86.9,467.6 88.6,467.5 90.2,467.4 91.9,467.4 93.6,467.4 95.2,467.5 96.9,467.7 98.5,467.9 100.2,468.2 101.8,468.5 103.4,468.9 105.0,469.4 106.5,469.9 108.0,470.5 109.5,471.1 111.0,471.8 112.4,472.6 113.8,473.4 115.1,474.2 116.4,475.1 117.6,476.1 118.8,477.1 119.9,478.1 121.0,479.2 122.0,480.4 123.0,481.5 123.9,482.8 124.7,484.0 125.5,485.3 126.2,486.6 126.8,487.9 127.4,489.3 127.8,490.7 128.3,492.0 128.6,493.5 128.9,494.9 129.0,496.3 129.2,497.8 129.2,499.2" stroke="#808080" stroke-width="1.8" fill="none" stroke-dasharray="1.8 3.2"/>
<path d="M46.4,499.2 46.4,499.2 46.4,499.0 46.4,498.9 46.4,498.6 46.5,498.3 46.5,497.9 46.6,497.4 46.7,496.8 46.9,496.2 47.1,495.5 47.3,494.8 47.5,494.0 47.8,493.1 48.2,492.2 48.6,491.2 49.0,490.1 49.5,489.1 50.1,487.9 50.7,486.8 51.4,485.6 52.1,484.3 52.9,483.1 53.8,481.8 54.8,480.5 55.8,479.1 56.9,477.8 58.0,476.4 59.3,475.1 60.6,473.7 61.9,472.4 63.4,471.0 64.9,469.7 66.5,468.4 68.1,467.1 69.8,465.8 71.6,464.5 73.5,463.3 75.4,462.2 77.4,461.0 79.4,460.0 81.5,458.9 83.6,457.9 85.8,457.0 88.0,456.2 90.3,455.4 92.6,454.6 95.0,454.0 97.4,453.4 99.8,452.9 102.2,452.4 104.7,452.1 107.2,451.8 109.7,451.6 112.2,451.5 114.7,451.5 117.2,451.5 119.7,451.7 122.2,451.9 124.6,452.3 127.1,452.7 129.5,453.2 131.9,453.8 134.3,454.5 136.6,455.3 138.9,456.2 141.1,457.1 143.3,458.1 145.4,459.3 147.5,460.5 149.5,461.8 151.4,463.1 153.2,464.5 155.0,466.0 156.7,467.6 158.3,469.3 159.9,471.0 161.3,472.7 162.6,474.5 163.9,476.4 165.0,478.3 166.1,480.3 167.0,482.3 167.8,484.3 168.6,486.4 169.2,488.5 169.7,490.6 170.1,492.7 170.4,494.9 170.5,497.0 170.6,499.2" stroke="#808080" stroke-width="1.8" fill="none" stroke-dasharray="1.8 3.2"/>
<path d="M46.4,499.2 46.4,499.1 46.4,499.0 46.4,498.7 46.5,498.4 46.5,497.9 46.6,497.4 46.7,496.8 46.8,496.0 47.0,495.2 47.3,494.3 47.6,493.3 47.9,492.2 48.3,491.0 48.7,489.8 49.3,488.5 49.9,487.1 50.5,485.7 51.3,484.2 52.1,482.6 53.0,481.0 54.0,479.4 55.1,477.7 56.3,476.0 57.5,474.2 58.9,472.4 60.4,470.6 61.9,468.8 63.5,467.0 65.3,465.2 67.1,463.4 69.0,461.6 71.0,459.8 73.2,458.1 75.4,456.3 77.6,454.6 80.0,453.0 82.5,451.4 85.0,449.8 87.7,448.3 90.4,446.9 93.2,445.5 96.0,444.2 98.9,443.0 101.9,441.8 104.9,440.7 108.0,439.8 111.2,438.9 114.4,438.1 117.6,437.4 120.8,436.8 124.1,436.4 127.4,436.0 130.8,435.7 134.1,435.6 137.4,435.6 140.8,435.7 144.1,435.9 147.4,436.2 150.7,436.6 154.0,437.2 157.2,437.9 160.4,438.7 163.5,439.6 166.6,440.7 169.7,441.8 172.7,443.1 175.6,444.5 178.4,446.0 181.1,447.6 183.8,449.3 186.4,451.1 188.9,453.0 191.2,455.0 193.5,457.1 195.6,459.3 197.7,461.5 199.6,463.9 201.4,466.3 203.0,468.8 204.6,471.4 206.0,474.0 207.2,476.6 208.3,479.4 209.3,482.1 210.1,484.9 210.8,487.7 211.3,490.6 211.7,493.4 211.9,496.3 212.0,499.2" stroke="#808080" stroke-width="1.8" fill="none" stroke-dasharray="1.8 3.2"/>
<path d="M46.4,499.2 46.4,499.1 46.4,498.9 46.4,498.6 46.5,498.2 46.5,497.6 46.6,497.0 46.8,496.2 47.0,495.2 47.2,494.2 47.5,493.1 47.8,491.8 48.3,490.5 48.8,489.0 49.3,487.5 50.0,485.8 50.7,484.1 51.6,482.3 52.5,480.4 53.5,478.5 54.7,476.5 55.9,474.4 57.3,472.3 58.7,470.2 60.3,468.0 62.0,465.7 63.8,463.5 65.8,461.2 67.8,459.0 70.0,456.7 72.3,454.5 74.7,452.2 77.2,450.0 79.8,447.8 82.6,445.6 85.5,443.5 88.4,441.4 91.5,439.4 94.7,437.5 98.0,435.6 101.4,433.8 104.9,432.1 108.4,430.4 112.1,428.9 115.8,427.5 119.6,426.1 123.4,424.9 127.4,423.8 131.4,422.8 135.4,422.0 139.5,421.2 143.6,420.6 147.7,420.2 151.8,419.9 156.0,419.7 160.2,419.7 164.3,419.8 168.5,420.0 172.7,420.4 176.8,421.0 180.9,421.7 184.9,422.6 188.9,423.6 192.8,424.7 196.7,426.0 200.5,427.5 204.2,429.0 207.9,430.8 211.4,432.6 214.8,434.6 218.2,436.8 221.4,439.0 224.5,441.4 227.4,443.9 230.3,446.6 233.0,449.3 235.5,452.1 237.9,455.1 240.1,458.1 242.2,461.2 244.1,464.4 245.8,467.7 247.4,471.0 248.8,474.4 250.0,477.8 251.0,481.3 251.9,484.9 252.6,488.4 253.0,492.0 253.3,495.6 253.4,499.2" stroke="#808080" stroke-width="1.8" fill="none" stroke-dasharray="1.8 3.2"/>
<path d="M46.4,499.2 46.4,499.1 46.4,498.9 46.4,498.5 46.5,498.0 46.6,497.3 46.7,496.5 46.8,495.5 47.1,494.4 47.4,493.2 47.7,491.8 48.1,490.3 48.6,488.7 49.2,487.0 49.9,485.1 50.7,483.2 51.6,481.1 52.6,478.9 53.7,476.7 55.0,474.3 56.3,471.9 57.8,469.5 59.5,466.9 61.2,464.3 63.1,461.7 65.1,459.1 67.3,456.4 69.6,453.7 72.1,450.9 74.7,448.2 77.4,445.5 80.3,442.8 83.4,440.1 86.5,437.5 89.8,434.9 93.3,432.4 96.8,429.9 100.5,427.5 104.4,425.1 108.3,422.9 112.4,420.7 116.5,418.6 120.8,416.7 125.2,414.8 129.7,413.1 134.2,411.5 138.9,410.1 143.6,408.7 148.3,407.6 153.2,406.5 158.1,405.7 163.0,404.9 167.9,404.4 172.9,404.0 177.9,403.8 182.9,403.8 187.9,403.9 192.9,404.2 197.9,404.7 202.8,405.4 207.7,406.2 212.6,407.2 217.4,408.4 222.1,409.8 226.8,411.4 231.3,413.1 235.8,415.0 240.1,417.1 244.4,419.3 248.5,421.7 252.5,424.3 256.4,427.0 260.1,429.9 263.6,432.9 267.0,436.0 270.3,439.3 273.3,442.7 276.2,446.2 278.9,449.9 281.4,453.6 283.6,457.4 285.7,461.4 287.6,465.4 289.3,469.4 290.7,473.6 292.0,477.7 293.0,482.0 293.8,486.3 294.3,490.6 294.7,494.9 294.8,499.2" stroke="#808080" stroke-width="1.8" fill="none" stroke-dasharray="1.8 3.2"/>
<path d="M46.4,499.2 46.4,499.1 46.4,498.8 46.4,498.4 46.5,497.8 46.6,497.0 46.7,496.1 46.9,494.9 47.2,493.7 47.5,492.2 47.9,490.6 48.4,488.9 49.0,487.0 49.7,484.9 50.5,482.8 51.4,480.5 52.5,478.1 53.6,475.5 55.0,472.9 56.4,470.2 58.0,467.4 59.7,464.5 61.6,461.6 63.7,458.5 65.9,455.5 68.3,452.4 70.8,449.2 73.5,446.1 76.4,442.9 79.4,439.7 82.6,436.6 86.0,433.4 89.5,430.3 93.2,427.2 97.1,424.2 101.1,421.2 105.3,418.3 109.6,415.5 114.0,412.8 118.6,410.1 123.4,407.6 128.2,405.2 133.2,402.9 138.3,400.8 143.5,398.8 148.9,396.9 154.3,395.2 159.8,393.7 165.3,392.3 171.0,391.1 176.7,390.1 182.4,389.2 188.2,388.6 194.0,388.1 199.9,387.9 205.7,387.8 211.5,388.0 217.4,388.4 223.2,388.9 228.9,389.7 234.6,390.7 240.3,391.9 245.9,393.3 251.4,394.9 256.8,396.7 262.1,398.8 267.3,401.0 272.4,403.4 277.4,406.0 282.2,408.8 286.9,411.8 291.4,415.0 295.7,418.3 299.8,421.8 303.8,425.5 307.6,429.3 311.1,433.3 314.5,437.4 317.6,441.6 320.5,446.0 323.2,450.5 325.6,455.0 327.8,459.7 329.8,464.5 331.5,469.3 332.9,474.2 334.1,479.1 335.0,484.1 335.7,489.1 336.1,494.2 336.2,499.2" stroke="#808080" stroke-width="1.8" fill="none" stroke-dasharray="1.8 3.2"/>
<path d="M87.80,499.20 A41.40,41.33 0 0 0 46.40,457.87" stroke="#000" stroke-width="2.2" fill="none"/>
</g>
<rect x="46.40" y="375.20" width="289.80" height="124.00" stroke="#3c3c3c" stroke-width="1.25" fill="none"/>
<rect x="290.60" y="497.70" width="8.4" height="2.0" fill="#e0142e"/>
<path d="M46.40,499.20v4.4M129.20,499.20v4.4M212.00,499.20v4.4M294.80,499.20v4.4M46.40,499.20h-4.4M46.40,457.87h-4.4M46.40,416.53h-4.4M46.40,375.20h-4.4" stroke="#222" stroke-width="1.1" fill="none"/>
<text x="41.65" y="521.70" font-family='"Liberation Sans",sans-serif' font-size="16" fill="#111">0</text>
<text x="124.45" y="521.70" font-family='"Liberation Sans",sans-serif' font-size="16" fill="#111">2</text>
<text x="207.30" y="521.70" font-family='"Liberation Sans",sans-serif' font-size="16" fill="#111">4</text>
<text x="290.00" y="521.70" font-family='"Liberation Sans",sans-serif' font-size="16" fill="#111">6</text>
<text x="27.93" y="506.40" font-family='"Liberation Sans",sans-serif' font-size="16" fill="#111">0</text>
<text x="28.08" y="465.07" font-family='"Liberation Sans",sans-serif' font-size="16" fill="#111">1</text>
<text x="28.11" y="423.73" font-family='"Liberation Sans",sans-serif' font-size="16" fill="#111">2</text>
<text x="28.00" y="382.40" font-family='"Liberation Sans",sans-serif' font-size="16" fill="#111">3</text>
<text transform="translate(17.00,438.10) rotate(-90)" x="-18.84" y="0" font-family='"Liberation Sans",sans-serif' font-size="16" fill="#111">Z[<tspan font-style="italic">R</tspan><tspan font-style="italic" font-size="11.20" dy="3.3">E</tspan><tspan dy="-3.3">]</tspan></text>
<text transform="translate(5.45,378.30) scale(0.845,1.000)" x="-0.59" y="0" font-family='"Liberation Sans",sans-serif' font-size="14" fill="#111">c</text>
<text transform="translate(12.45,378.30) scale(0.593,1.000)" x="-0.08" y="0" font-family='"Liberation Sans",sans-serif' font-size="14" fill="#111">)</text>
<text transform="translate(58.00,393.30) scale(1.200,1.000)" x="-0.62" y="0" font-family='"Liberation Serif",serif' font-size="14" font-style="italic" fill="#111">t</text>
<rect x="69.80" y="386.23" width="9.00" height="1.35" fill="#1a1a1a"/><rect x="69.80" y="389.93" width="9.00" height="1.35" fill="#1a1a1a"/>
<text transform="translate(85.50,393.30)" x="-0.92" y="0" font-family='"Liberation Serif",serif' font-size="14" font-style="italic" fill="#111">T</text>
<text transform="translate(93.10,396.10)" x="-0.36" y="0" font-family='"Liberation Serif",serif' font-size="9.5" fill="#111">0</text>
<path d="M99.50,396.10L104.70,384.30" stroke="#1a1a1a" stroke-width="1.15"/>
<text transform="translate(108.10,393.30)" x="-0.27" y="0" font-family='"Liberation Serif",serif' font-size="14" fill="#111">4</text>
<clipPath id="cL3"><rect x="46.40" y="549.60" width="289.80" height="124.10"/></clipPath>
<path d="M129.20,549.60V673.70M212.00,549.60V673.70M294.80,549.60V673.70M46.40,632.33H336.20M46.40,590.97H336.20" stroke="#c6c6c6" stroke-width="1.4" fill="none"/>
<g clip-path="url(#cL3)">
<path d="M133.1,584.8 134.1,584.4 135.1,584.0 136.1,583.6 137.2,583.3 138.2,582.9 139.3,582.5 140.3,582.2 141.4,581.8 142.4,581.5 143.5,581.1 144.5,580.8 145.6,580.5 146.7,580.2 147.8,579.8 148.8,579.5 149.9,579.2 151.0,579.0 152.1,578.7 153.2,578.4 154.3,578.1 155.4,577.8 156.5,577.6 157.6,577.3 158.7,577.1 159.8,576.9 161.0,576.6 162.1,576.4 163.2,576.2 164.3,576.0 165.5,575.8 166.6,575.6 167.7,575.4 168.9,575.2 170.0,575.1 171.1,574.9 172.3,574.7 173.4,574.6 174.6,574.5 175.7,574.3 176.8,574.2 178.0,574.1 179.1,574.0 180.3,573.9 181.4,573.8 182.6,573.7 183.8,573.6 184.9,573.6 186.1,573.5 187.2,573.4 188.4,573.4 189.5,573.4 190.7,573.3 191.8,573.3 193.0,573.3 194.1,573.3 195.3,573.3 196.5,573.3 197.6,573.4 198.8,573.4 199.9,573.5 201.1,573.5 202.2,573.6 203.4,573.6 204.5,573.7 205.7,573.8 206.8,573.9 208.0,574.0 209.1,574.1 210.3,574.3 211.4,574.4 212.5,574.6 213.7,574.7 214.8,574.9 216.0,575.1 217.1,575.2 218.2,575.4 219.4,575.6 220.5,575.9 221.6,576.1 222.7,576.3 223.8,576.6 225.0,576.8 226.1,577.1 227.2,577.4 228.3,577.6 229.4,577.9 230.5,578.2 231.6,578.6 232.7,578.9 233.8,579.2 234.9,579.6 236.0,579.9 237.0,580.3 238.1,580.7 239.2,581.1 240.3,581.5 241.3,581.9 242.4,582.3 243.4,582.8 244.5,583.2 245.5,583.7 246.6,584.1 247.6,584.6 248.6,585.1 249.7,585.6 250.7,586.1 251.7,586.6 252.7,587.2 253.7,587.7 254.7,588.3 255.7,588.8 256.7,589.4 257.7,590.0 258.6,590.6 259.6,591.2 260.5,591.8 261.5,592.5 262.4,593.1 263.3,593.8 264.3,594.4 265.2,595.1 266.1,595.8 267.0,596.5 267.8,597.2 268.7,597.9 269.6,598.6 270.4,599.4 271.3,600.1 272.1,600.9 272.9,601.6 273.7,602.4 274.5,603.2 275.3,604.0 276.1,604.8 276.8,605.6 277.6,606.4 278.3,607.3 279.0,608.1 279.7,609.0 280.4,609.9 281.1,610.7 281.8,611.6 282.4,612.5 283.1,613.4 283.7,614.3 284.3,615.3 284.9,616.2 285.5,617.1 286.0,618.1 286.6,619.0 287.1,620.0 287.6,621.0 288.1,622.0 288.6,623.0 289.1,624.0 289.5,625.0 290.0,626.0 290.4,627.1 290.8,628.1 291.2,629.2 291.5,630.2 291.9,631.3 292.2,632.4 292.5,633.5 292.8,634.6 293.1,635.7 293.3,636.8 293.6,637.9 293.8,639.0 294.0,640.2 294.2,641.3 294.4,642.4 294.6,643.6 294.8,644.7 294.9,645.9 295.0,647.0 295.1,648.2 295.2,649.3 295.3,650.5 295.4,651.6 295.5,652.8 295.5,654.0 295.6,655.1 295.6,656.3 295.6,657.5 295.6,658.6 295.6,659.8 295.6,661.0 295.6,662.2 295.5,663.3 295.5,664.5 295.4,665.6 295.4,666.8 295.3,668.0 295.2,669.1 295.1,670.3 295.0,671.4 294.9,672.6 294.8,673.7" stroke="#e8283c" stroke-width="1.8" fill="none" stroke-linejoin="round"/>
<path d="M244.30,583.70L248.40,570.90M278.20,606.70L284.00,594.80M291.00,627.80L297.80,618.20M294.90,649.60L302.00,638.80" stroke="#6468e2" stroke-width="1.1" fill="none" stroke-linecap="round"/>
<circle cx="248.40" cy="570.90" r="0.95" fill="#4a46cc"/><circle cx="284.00" cy="594.80" r="0.95" fill="#4a46cc"/><circle cx="297.80" cy="618.20" r="0.95" fill="#4a46cc"/><circle cx="302.00" cy="638.80" r="0.95" fill="#4a46cc"/>
<path d="M46.4,673.7 46.4,673.7 46.4,673.6 46.4,673.5 46.4,673.3 46.5,673.1 46.5,672.8 46.5,672.5 46.6,672.1 46.7,671.7 46.8,671.2 47.0,670.7 47.1,670.2 47.3,669.6 47.6,669.0 47.8,668.3 48.1,667.7 48.5,666.9 48.8,666.2 49.3,665.4 49.7,664.6 50.2,663.8 50.8,662.9 51.3,662.1 52.0,661.2 52.6,660.3 53.4,659.4 54.1,658.5 55.0,657.6 55.8,656.7 56.7,655.8 57.7,654.9 58.7,654.0 59.8,653.1 60.9,652.3 62.0,651.4 63.2,650.6 64.4,649.8 65.7,649.0 67.0,648.2 68.4,647.5 69.8,646.8 71.2,646.2 72.7,645.6 74.2,645.0 75.7,644.4 77.2,644.0 78.8,643.5 80.4,643.1 82.0,642.8 83.6,642.5 85.3,642.3 86.9,642.1 88.6,641.9 90.2,641.9 91.9,641.9 93.6,641.9 95.2,642.0 96.9,642.2 98.5,642.4 100.2,642.7 101.8,643.0 103.4,643.4 105.0,643.9 106.5,644.4 108.0,645.0 109.5,645.6 111.0,646.3 112.4,647.1 113.8,647.9 115.1,648.7 116.4,649.6 117.6,650.6 118.8,651.6 119.9,652.6 121.0,653.7 122.0,654.9 123.0,656.0 123.9,657.2 124.7,658.5 125.5,659.8 126.2,661.1 126.8,662.4 127.4,663.8 127.8,665.1 128.3,666.5 128.6,668.0 128.9,669.4 129.0,670.8 129.2,672.3 129.2,673.7" stroke="#808080" stroke-width="1.8" fill="none" stroke-dasharray="1.8 3.2"/>
<path d="M46.4,673.7 46.4,673.7 46.4,673.5 46.4,673.4 46.4,673.1 46.5,672.8 46.5,672.4 46.6,671.9 46.7,671.3 46.9,670.7 47.1,670.0 47.3,669.3 47.5,668.5 47.8,667.6 48.2,666.7 48.6,665.7 49.0,664.6 49.5,663.6 50.1,662.4 50.7,661.3 51.4,660.1 52.1,658.8 52.9,657.6 53.8,656.3 54.8,654.9 55.8,653.6 56.9,652.3 58.0,650.9 59.3,649.5 60.6,648.2 61.9,646.8 63.4,645.5 64.9,644.1 66.5,642.8 68.1,641.5 69.8,640.3 71.6,639.0 73.5,637.8 75.4,636.6 77.4,635.5 79.4,634.4 81.5,633.4 83.6,632.4 85.8,631.5 88.0,630.6 90.3,629.8 92.6,629.1 95.0,628.4 97.4,627.8 99.8,627.3 102.2,626.9 104.7,626.5 107.2,626.3 109.7,626.1 112.2,626.0 114.7,625.9 117.2,626.0 119.7,626.2 122.2,626.4 124.6,626.7 127.1,627.2 129.5,627.7 131.9,628.3 134.3,629.0 136.6,629.8 138.9,630.6 141.1,631.6 143.3,632.6 145.4,633.7 147.5,634.9 149.5,636.2 151.4,637.6 153.2,639.0 155.0,640.5 156.7,642.1 158.3,643.7 159.9,645.4 161.3,647.2 162.6,649.0 163.9,650.9 165.0,652.8 166.1,654.8 167.0,656.8 167.8,658.8 168.6,660.9 169.2,663.0 169.7,665.1 170.1,667.2 170.4,669.4 170.5,671.5 170.6,673.7" stroke="#808080" stroke-width="1.8" fill="none" stroke-dasharray="1.8 3.2"/>
<path d="M46.4,673.7 46.4,673.6 46.4,673.5 46.4,673.2 46.5,672.9 46.5,672.4 46.6,671.9 46.7,671.3 46.8,670.5 47.0,669.7 47.3,668.8 47.6,667.8 47.9,666.7 48.3,665.5 48.7,664.3 49.3,663.0 49.9,661.6 50.5,660.2 51.3,658.7 52.1,657.1 53.0,655.5 54.0,653.9 55.1,652.2 56.3,650.4 57.5,648.7 58.9,646.9 60.4,645.1 61.9,643.3 63.5,641.5 65.3,639.7 67.1,637.9 69.0,636.1 71.0,634.3 73.2,632.5 75.4,630.8 77.6,629.1 80.0,627.5 82.5,625.8 85.0,624.3 87.7,622.8 90.4,621.3 93.2,620.0 96.0,618.6 98.9,617.4 101.9,616.3 104.9,615.2 108.0,614.2 111.2,613.3 114.4,612.6 117.6,611.9 120.8,611.3 124.1,610.8 127.4,610.4 130.8,610.2 134.1,610.0 137.4,610.0 140.8,610.1 144.1,610.3 147.4,610.6 150.7,611.1 154.0,611.7 157.2,612.3 160.4,613.1 163.5,614.1 166.6,615.1 169.7,616.3 172.7,617.5 175.6,618.9 178.4,620.4 181.1,622.0 183.8,623.7 186.4,625.5 188.9,627.5 191.2,629.5 193.5,631.6 195.6,633.7 197.7,636.0 199.6,638.4 201.4,640.8 203.0,643.3 204.6,645.8 206.0,648.4 207.2,651.1 208.3,653.8 209.3,656.6 210.1,659.4 210.8,662.2 211.3,665.1 211.7,667.9 211.9,670.8 212.0,673.7" stroke="#808080" stroke-width="1.8" fill="none" stroke-dasharray="1.8 3.2"/>
<path d="M46.4,673.7 46.4,673.6 46.4,673.4 46.4,673.1 46.5,672.7 46.5,672.1 46.6,671.5 46.8,670.7 47.0,669.7 47.2,668.7 47.5,667.6 47.8,666.3 48.3,665.0 48.8,663.5 49.3,662.0 50.0,660.3 50.7,658.6 51.6,656.8 52.5,654.9 53.5,653.0 54.7,651.0 55.9,648.9 57.3,646.8 58.7,644.6 60.3,642.4 62.0,640.2 63.8,638.0 65.8,635.7 67.8,633.4 70.0,631.2 72.3,628.9 74.7,626.7 77.2,624.4 79.8,622.2 82.6,620.1 85.5,618.0 88.4,615.9 91.5,613.9 94.7,611.9 98.0,610.0 101.4,608.2 104.9,606.5 108.4,604.9 112.1,603.3 115.8,601.9 119.6,600.6 123.4,599.4 127.4,598.3 131.4,597.3 135.4,596.4 139.5,595.7 143.6,595.1 147.7,594.6 151.8,594.3 156.0,594.1 160.2,594.1 164.3,594.2 168.5,594.5 172.7,594.9 176.8,595.4 180.9,596.1 184.9,597.0 188.9,598.0 192.8,599.2 196.7,600.5 200.5,601.9 204.2,603.5 207.9,605.2 211.4,607.1 214.8,609.1 218.2,611.2 221.4,613.5 224.5,615.9 227.4,618.4 230.3,621.0 233.0,623.8 235.5,626.6 237.9,629.5 240.1,632.6 242.2,635.7 244.1,638.9 245.8,642.1 247.4,645.5 248.8,648.9 250.0,652.3 251.0,655.8 251.9,659.3 252.6,662.9 253.0,666.5 253.3,670.1 253.4,673.7" stroke="#808080" stroke-width="1.8" fill="none" stroke-dasharray="1.8 3.2"/>
<path d="M46.4,673.7 46.4,673.6 46.4,673.4 46.4,673.0 46.5,672.5 46.6,671.8 46.7,671.0 46.8,670.0 47.1,668.9 47.4,667.7 47.7,666.3 48.1,664.8 48.6,663.2 49.2,661.5 49.9,659.6 50.7,657.6 51.6,655.6 52.6,653.4 53.7,651.2 55.0,648.8 56.3,646.4 57.8,643.9 59.5,641.4 61.2,638.8 63.1,636.2 65.1,633.5 67.3,630.8 69.6,628.1 72.1,625.4 74.7,622.7 77.4,620.0 80.3,617.3 83.4,614.6 86.5,612.0 89.8,609.4 93.3,606.8 96.8,604.3 100.5,601.9 104.4,599.6 108.3,597.3 112.4,595.1 116.5,593.1 120.8,591.1 125.2,589.3 129.7,587.5 134.2,585.9 138.9,584.5 143.6,583.2 148.3,582.0 153.2,581.0 158.1,580.1 163.0,579.4 167.9,578.8 172.9,578.4 177.9,578.2 182.9,578.2 187.9,578.3 192.9,578.6 197.9,579.1 202.8,579.8 207.7,580.6 212.6,581.7 217.4,582.9 222.1,584.2 226.8,585.8 231.3,587.5 235.8,589.4 240.1,591.5 244.4,593.8 248.5,596.2 252.5,598.7 256.4,601.5 260.1,604.3 263.6,607.3 267.0,610.5 270.3,613.8 273.3,617.2 276.2,620.7 278.9,624.3 281.4,628.1 283.6,631.9 285.7,635.8 287.6,639.8 289.3,643.9 290.7,648.0 292.0,652.2 293.0,656.5 293.8,660.7 294.3,665.0 294.7,669.4 294.8,673.7" stroke="#808080" stroke-width="1.8" fill="none" stroke-dasharray="1.8 3.2"/>
<path d="M46.4,673.7 46.4,673.6 46.4,673.3 46.4,672.9 46.5,672.3 46.6,671.5 46.7,670.6 46.9,669.4 47.2,668.1 47.5,666.7 47.9,665.1 48.4,663.4 49.0,661.5 49.7,659.4 50.5,657.3 51.4,655.0 52.5,652.6 53.6,650.0 55.0,647.4 56.4,644.7 58.0,641.9 59.7,639.0 61.6,636.0 63.7,633.0 65.9,629.9 68.3,626.8 70.8,623.7 73.5,620.5 76.4,617.3 79.4,614.2 82.6,611.0 86.0,607.9 89.5,604.7 93.2,601.7 97.1,598.6 101.1,595.7 105.3,592.8 109.6,589.9 114.0,587.2 118.6,584.6 123.4,582.0 128.2,579.6 133.2,577.4 138.3,575.2 143.5,573.2 148.9,571.3 154.3,569.6 159.8,568.1 165.3,566.7 171.0,565.5 176.7,564.5 182.4,563.6 188.2,563.0 194.0,562.6 199.9,562.3 205.7,562.3 211.5,562.4 217.4,562.8 223.2,563.3 228.9,564.1 234.6,565.1 240.3,566.3 245.9,567.7 251.4,569.3 256.8,571.2 262.1,573.2 267.3,575.4 272.4,577.8 277.4,580.4 282.2,583.3 286.9,586.2 291.4,589.4 295.7,592.8 299.8,596.3 303.8,599.9 307.6,603.8 311.1,607.7 314.5,611.9 317.6,616.1 320.5,620.5 323.2,624.9 325.6,629.5 327.8,634.2 329.8,638.9 331.5,643.8 332.9,648.7 334.1,653.6 335.0,658.6 335.7,663.6 336.1,668.6 336.2,673.7" stroke="#808080" stroke-width="1.8" fill="none" stroke-dasharray="1.8 3.2"/>
<path d="M87.80,673.70 A41.40,41.37 0 0 0 46.40,632.33" stroke="#000" stroke-width="2.2" fill="none"/>
</g>
<rect x="46.40" y="549.60" width="289.80" height="124.10" stroke="#3c3c3c" stroke-width="1.25" fill="none"/>
<rect x="290.60" y="672.20" width="8.4" height="2.0" fill="#e0142e"/>
<path d="M46.40,673.70v4.4M129.20,673.70v4.4M212.00,673.70v4.4M294.80,673.70v4.4M46.40,673.70h-4.4M46.40,632.33h-4.4M46.40,590.97h-4.4M46.40,549.60h-4.4" stroke="#222" stroke-width="1.1" fill="none"/>
<text x="41.65" y="695.90" font-family='"Liberation Sans",sans-serif' font-size="16" fill="#111">0</text>
<text x="124.45" y="695.90" font-family='"Liberation Sans",sans-serif' font-size="16" fill="#111">2</text>
<text x="207.30" y="695.90" font-family='"Liberation Sans",sans-serif' font-size="16" fill="#111">4</text>
<text x="290.00" y="695.90" font-family='"Liberation Sans",sans-serif' font-size="16" fill="#111">6</text>
<text x="27.93" y="680.90" font-family='"Liberation Sans",sans-serif' font-size="16" fill="#111">0</text>
<text x="28.08" y="639.53" font-family='"Liberation Sans",sans-serif' font-size="16" fill="#111">1</text>
<text x="28.11" y="598.17" font-family='"Liberation Sans",sans-serif' font-size="16" fill="#111">2</text>
<text x="28.00" y="556.80" font-family='"Liberation Sans",sans-serif' font-size="16" fill="#111">3</text>
<text transform="translate(17.00,612.55) rotate(-90)" x="-18.84" y="0" font-family='"Liberation Sans",sans-serif' font-size="16" fill="#111">Z[<tspan font-style="italic">R</tspan><tspan font-style="italic" font-size="11.20" dy="3.3">E</tspan><tspan dy="-3.3">]</tspan></text>
<text transform="translate(4.15,550.10) scale(0.874,1.000)" x="-0.59" y="0" font-family='"Liberation Sans",sans-serif' font-size="14" fill="#111">d</text>
<text transform="translate(12.45,550.10) scale(0.593,1.000)" x="-0.08" y="0" font-family='"Liberation Sans",sans-serif' font-size="14" fill="#111">)</text>
<text transform="translate(53.90,567.80) scale(1.200,1.000)" x="-0.62" y="0" font-family='"Liberation Serif",serif' font-size="14" font-style="italic" fill="#111">t</text>
<rect x="65.70" y="560.73" width="9.00" height="1.35" fill="#1a1a1a"/><rect x="65.70" y="564.42" width="9.00" height="1.35" fill="#1a1a1a"/>
<text transform="translate(81.40,567.80)" x="-0.67" y="0" font-family='"Liberation Serif",serif' font-size="14" fill="#111">3</text>
<text transform="translate(88.10,567.80)" x="-0.92" y="0" font-family='"Liberation Serif",serif' font-size="14" font-style="italic" fill="#111">T</text>
<text transform="translate(95.70,570.60)" x="-0.36" y="0" font-family='"Liberation Serif",serif' font-size="9.5" fill="#111">0</text>
<path d="M102.10,570.60L107.30,558.80" stroke="#1a1a1a" stroke-width="1.15"/>
<text transform="translate(110.70,567.80)" x="-0.53" y="0" font-family='"Liberation Serif",serif' font-size="14" fill="#111">8</text>
<clipPath id="cL4"><rect x="46.40" y="723.90" width="289.80" height="124.40"/></clipPath>
<path d="M129.20,723.90V848.30M212.00,723.90V848.30M294.80,723.90V848.30M46.40,806.83H336.20M46.40,765.37H336.20" stroke="#c6c6c6" stroke-width="1.4" fill="none"/>
<g clip-path="url(#cL4)">
<path d="M137.4,758.2 138.5,757.9 139.5,757.5 140.5,757.2 141.6,756.9 142.6,756.5 143.7,756.2 144.7,755.9 145.8,755.6 146.8,755.3 147.9,755.0 149.0,754.7 150.0,754.4 151.1,754.1 152.1,753.9 153.2,753.6 154.3,753.3 155.4,753.1 156.4,752.9 157.5,752.6 158.6,752.4 159.7,752.2 160.8,752.0 161.8,751.8 162.9,751.6 164.0,751.4 165.1,751.2 166.2,751.0 167.3,750.8 168.4,750.7 169.5,750.5 170.6,750.4 171.7,750.2 172.8,750.1 173.9,750.0 175.0,749.9 176.1,749.8 177.2,749.6 178.3,749.6 179.4,749.5 180.5,749.4 181.6,749.3 182.7,749.3 183.8,749.2 184.9,749.2 186.0,749.1 187.1,749.1 188.2,749.1 189.3,749.0 190.4,749.0 191.5,749.0 192.6,749.1 193.7,749.1 194.8,749.1 195.9,749.1 197.0,749.2 198.1,749.2 199.2,749.3 200.3,749.4 201.4,749.4 202.5,749.5 203.6,749.6 204.7,749.7 205.8,749.8 206.9,750.0 208.0,750.1 209.1,750.2 210.2,750.4 211.2,750.5 212.3,750.7 213.4,750.9 214.5,751.1 215.6,751.2 216.7,751.4 217.7,751.7 218.8,751.9 219.9,752.1 221.0,752.3 222.0,752.6 223.1,752.9 224.2,753.1 225.3,753.4 226.3,753.7 227.4,754.0 228.4,754.3 229.5,754.6 230.5,754.9 231.6,755.3 232.6,755.6 233.7,756.0 234.7,756.3 235.8,756.7 236.8,757.1 237.9,757.5 238.9,757.9 239.9,758.3 240.9,758.7 242.0,759.1 243.0,759.6 244.0,760.0 245.0,760.5 246.0,761.0 247.0,761.4 248.0,761.9 249.0,762.4 250.0,763.0 251.0,763.5 251.9,764.0 252.9,764.5 253.9,765.1 254.8,765.7 255.8,766.2 256.7,766.8 257.7,767.4 258.6,768.0 259.5,768.6 260.5,769.2 261.4,769.9 262.3,770.5 263.2,771.1 264.0,771.8 264.9,772.5 265.8,773.1 266.7,773.8 267.5,774.5 268.3,775.2 269.2,775.9 270.0,776.6 270.8,777.4 271.6,778.1 272.4,778.9 273.2,779.6 274.0,780.4 274.7,781.2 275.5,782.0 276.2,782.7 277.0,783.6 277.7,784.4 278.4,785.2 279.1,786.0 279.8,786.9 280.4,787.7 281.1,788.6 281.7,789.4 282.4,790.3 283.0,791.2 283.6,792.1 284.2,793.0 284.7,793.9 285.3,794.8 285.9,795.7 286.4,796.7 286.9,797.6 287.4,798.6 287.9,799.5 288.4,800.5 288.8,801.5 289.3,802.5 289.7,803.5 290.1,804.5 290.5,805.5 290.9,806.5 291.3,807.5 291.6,808.5 292.0,809.6 292.3,810.6 292.6,811.6 292.9,812.7 293.2,813.8 293.5,814.8 293.7,815.9 293.9,817.0 294.2,818.1 294.4,819.1 294.6,820.2 294.8,821.3 294.9,822.4 295.1,823.5 295.2,824.6 295.3,825.7 295.4,826.8 295.5,828.0 295.6,829.1 295.7,830.2 295.7,831.3 295.8,832.4 295.8,833.6 295.8,834.7 295.8,835.8 295.8,837.0 295.7,838.1 295.7,839.2 295.6,840.4 295.5,841.5 295.4,842.6 295.3,843.8 295.2,844.9 295.1,846.0 294.9,847.2 294.8,848.3" stroke="#e8283c" stroke-width="1.8" fill="none" stroke-linejoin="round"/>
<path d="M228.30,753.80L231.30,741.40M273.80,778.80L280.40,767.50M290.10,803.10L297.70,792.20M295.50,824.20L303.50,814.40" stroke="#6468e2" stroke-width="1.1" fill="none" stroke-linecap="round"/>
<circle cx="231.30" cy="741.40" r="0.95" fill="#4a46cc"/><circle cx="280.40" cy="767.50" r="0.95" fill="#4a46cc"/><circle cx="297.70" cy="792.20" r="0.95" fill="#4a46cc"/><circle cx="303.50" cy="814.40" r="0.95" fill="#4a46cc"/>
<path d="M46.4,848.3 46.4,848.3 46.4,848.2 46.4,848.1 46.4,847.9 46.5,847.7 46.5,847.4 46.5,847.1 46.6,846.7 46.7,846.3 46.8,845.8 47.0,845.3 47.1,844.8 47.3,844.2 47.6,843.6 47.8,842.9 48.1,842.2 48.5,841.5 48.8,840.8 49.3,840.0 49.7,839.2 50.2,838.4 50.8,837.5 51.3,836.6 52.0,835.8 52.6,834.9 53.4,834.0 54.1,833.1 55.0,832.2 55.8,831.3 56.7,830.3 57.7,829.4 58.7,828.5 59.8,827.7 60.9,826.8 62.0,826.0 63.2,825.1 64.4,824.3 65.7,823.5 67.0,822.8 68.4,822.1 69.8,821.4 71.2,820.7 72.7,820.1 74.2,819.5 75.7,819.0 77.2,818.5 78.8,818.0 80.4,817.7 82.0,817.3 83.6,817.0 85.3,816.8 86.9,816.6 88.6,816.5 90.2,816.4 91.9,816.4 93.6,816.4 95.2,816.5 96.9,816.7 98.5,816.9 100.2,817.2 101.8,817.5 103.4,817.9 105.0,818.4 106.5,818.9 108.0,819.5 109.5,820.1 111.0,820.8 112.4,821.6 113.8,822.4 115.1,823.3 116.4,824.2 117.6,825.1 118.8,826.1 119.9,827.2 121.0,828.3 122.0,829.4 123.0,830.6 123.9,831.8 124.7,833.1 125.5,834.3 126.2,835.6 126.8,837.0 127.4,838.3 127.8,839.7 128.3,841.1 128.6,842.5 128.9,844.0 129.0,845.4 129.2,846.9 129.2,848.3" stroke="#808080" stroke-width="1.8" fill="none" stroke-dasharray="1.8 3.2"/>
<path d="M46.4,848.3 46.4,848.3 46.4,848.1 46.4,848.0 46.4,847.7 46.5,847.4 46.5,846.9 46.6,846.5 46.7,845.9 46.9,845.3 47.1,844.6 47.3,843.9 47.5,843.0 47.8,842.2 48.2,841.2 48.6,840.3 49.0,839.2 49.5,838.1 50.1,837.0 50.7,835.8 51.4,834.6 52.1,833.4 52.9,832.1 53.8,830.8 54.8,829.5 55.8,828.2 56.9,826.8 58.0,825.5 59.3,824.1 60.6,822.7 61.9,821.4 63.4,820.0 64.9,818.7 66.5,817.4 68.1,816.1 69.8,814.8 71.6,813.5 73.5,812.3 75.4,811.1 77.4,810.0 79.4,808.9 81.5,807.9 83.6,806.9 85.8,806.0 88.0,805.1 90.3,804.3 92.6,803.6 95.0,802.9 97.4,802.3 99.8,801.8 102.2,801.4 104.7,801.0 107.2,800.7 109.7,800.5 112.2,800.4 114.7,800.4 117.2,800.5 119.7,800.6 122.2,800.9 124.6,801.2 127.1,801.6 129.5,802.2 131.9,802.8 134.3,803.5 136.6,804.2 138.9,805.1 141.1,806.1 143.3,807.1 145.4,808.2 147.5,809.4 149.5,810.7 151.4,812.1 153.2,813.5 155.0,815.0 156.7,816.6 158.3,818.3 159.9,820.0 161.3,821.7 162.6,823.6 163.9,825.4 165.0,827.3 166.1,829.3 167.0,831.3 167.8,833.4 168.6,835.4 169.2,837.5 169.7,839.7 170.1,841.8 170.4,844.0 170.5,846.1 170.6,848.3" stroke="#808080" stroke-width="1.8" fill="none" stroke-dasharray="1.8 3.2"/>
<path d="M46.4,848.3 46.4,848.2 46.4,848.1 46.4,847.8 46.5,847.5 46.5,847.0 46.6,846.5 46.7,845.9 46.8,845.1 47.0,844.3 47.3,843.4 47.6,842.4 47.9,841.3 48.3,840.1 48.7,838.9 49.3,837.6 49.9,836.2 50.5,834.7 51.3,833.2 52.1,831.7 53.0,830.1 54.0,828.4 55.1,826.7 56.3,825.0 57.5,823.2 58.9,821.5 60.4,819.7 61.9,817.8 63.5,816.0 65.3,814.2 67.1,812.4 69.0,810.6 71.0,808.8 73.2,807.0 75.4,805.3 77.6,803.6 80.0,801.9 82.5,800.3 85.0,798.8 87.7,797.2 90.4,795.8 93.2,794.4 96.0,793.1 98.9,791.9 101.9,790.7 104.9,789.7 108.0,788.7 111.2,787.8 114.4,787.0 117.6,786.3 120.8,785.7 124.1,785.3 127.4,784.9 130.8,784.6 134.1,784.5 137.4,784.5 140.8,784.6 144.1,784.8 147.4,785.1 150.7,785.5 154.0,786.1 157.2,786.8 160.4,787.6 163.5,788.5 166.6,789.6 169.7,790.7 172.7,792.0 175.6,793.4 178.4,794.9 181.1,796.5 183.8,798.2 186.4,800.0 188.9,801.9 191.2,804.0 193.5,806.1 195.6,808.2 197.7,810.5 199.6,812.9 201.4,815.3 203.0,817.8 204.6,820.4 206.0,823.0 207.2,825.7 208.3,828.4 209.3,831.2 210.1,834.0 210.8,836.8 211.3,839.6 211.7,842.5 211.9,845.4 212.0,848.3" stroke="#808080" stroke-width="1.8" fill="none" stroke-dasharray="1.8 3.2"/>
<path d="M46.4,848.3 46.4,848.2 46.4,848.0 46.4,847.7 46.5,847.3 46.5,846.7 46.6,846.0 46.8,845.2 47.0,844.3 47.2,843.3 47.5,842.1 47.8,840.9 48.3,839.5 48.8,838.1 49.3,836.5 50.0,834.9 50.7,833.2 51.6,831.4 52.5,829.5 53.5,827.5 54.7,825.5 55.9,823.4 57.3,821.3 58.7,819.2 60.3,817.0 62.0,814.7 63.8,812.5 65.8,810.2 67.8,808.0 70.0,805.7 72.3,803.4 74.7,801.2 77.2,798.9 79.8,796.7 82.6,794.6 85.5,792.4 88.4,790.3 91.5,788.3 94.7,786.4 98.0,784.5 101.4,782.7 104.9,781.0 108.4,779.3 112.1,777.8 115.8,776.3 119.6,775.0 123.4,773.8 127.4,772.7 131.4,771.7 135.4,770.8 139.5,770.1 143.6,769.5 147.7,769.0 151.8,768.7 156.0,768.5 160.2,768.5 164.3,768.6 168.5,768.9 172.7,769.3 176.8,769.8 180.9,770.5 184.9,771.4 188.9,772.4 192.8,773.6 196.7,774.9 200.5,776.3 204.2,777.9 207.9,779.7 211.4,781.5 214.8,783.5 218.2,785.7 221.4,788.0 224.5,790.3 227.4,792.9 230.3,795.5 233.0,798.2 235.5,801.1 237.9,804.0 240.1,807.1 242.2,810.2 244.1,813.4 245.8,816.7 247.4,820.0 248.8,823.4 250.0,826.9 251.0,830.4 251.9,833.9 252.6,837.5 253.0,841.1 253.3,844.7 253.4,848.3" stroke="#808080" stroke-width="1.8" fill="none" stroke-dasharray="1.8 3.2"/>
<path d="M46.4,848.3 46.4,848.2 46.4,848.0 46.4,847.6 46.5,847.1 46.6,846.4 46.7,845.6 46.8,844.6 47.1,843.5 47.4,842.3 47.7,840.9 48.1,839.4 48.6,837.8 49.2,836.0 49.9,834.2 50.7,832.2 51.6,830.1 52.6,828.0 53.7,825.7 55.0,823.4 56.3,821.0 57.8,818.5 59.5,815.9 61.2,813.3 63.1,810.7 65.1,808.0 67.3,805.3 69.6,802.6 72.1,799.9 74.7,797.2 77.4,794.4 80.3,791.7 83.4,789.0 86.5,786.4 89.8,783.8 93.3,781.3 96.8,778.8 100.5,776.3 104.4,774.0 108.3,771.7 112.4,769.6 116.5,767.5 120.8,765.5 125.2,763.7 129.7,761.9 134.2,760.3 138.9,758.9 143.6,757.5 148.3,756.4 153.2,755.3 158.1,754.5 163.0,753.7 167.9,753.2 172.9,752.8 177.9,752.6 182.9,752.5 187.9,752.7 192.9,753.0 197.9,753.5 202.8,754.1 207.7,755.0 212.6,756.0 217.4,757.2 222.1,758.6 226.8,760.2 231.3,761.9 235.8,763.8 240.1,765.9 244.4,768.2 248.5,770.6 252.5,773.2 256.4,775.9 260.1,778.8 263.6,781.8 267.0,784.9 270.3,788.2 273.3,791.6 276.2,795.2 278.9,798.8 281.4,802.6 283.6,806.4 285.7,810.3 287.6,814.3 289.3,818.4 290.7,822.6 292.0,826.8 293.0,831.0 293.8,835.3 294.3,839.6 294.7,844.0 294.8,848.3" stroke="#808080" stroke-width="1.8" fill="none" stroke-dasharray="1.8 3.2"/>
<path d="M46.4,848.3 46.4,848.2 46.4,847.9 46.4,847.5 46.5,846.9 46.6,846.1 46.7,845.1 46.9,844.0 47.2,842.7 47.5,841.3 47.9,839.7 48.4,837.9 49.0,836.0 49.7,834.0 50.5,831.8 51.4,829.5 52.5,827.1 53.6,824.6 55.0,821.9 56.4,819.2 58.0,816.4 59.7,813.5 61.6,810.5 63.7,807.5 65.9,804.4 68.3,801.3 70.8,798.2 73.5,795.0 76.4,791.8 79.4,788.6 82.6,785.5 86.0,782.3 89.5,779.2 93.2,776.1 97.1,773.1 101.1,770.1 105.3,767.2 109.6,764.3 114.0,761.6 118.6,759.0 123.4,756.4 128.2,754.0 133.2,751.7 138.3,749.6 143.5,747.5 148.9,745.7 154.3,744.0 159.8,742.4 165.3,741.0 171.0,739.8 176.7,738.8 182.4,738.0 188.2,737.3 194.0,736.9 199.9,736.6 205.7,736.6 211.5,736.7 217.4,737.1 223.2,737.7 228.9,738.5 234.6,739.4 240.3,740.7 245.9,742.1 251.4,743.7 256.8,745.5 262.1,747.5 267.3,749.8 272.4,752.2 277.4,754.8 282.2,757.6 286.9,760.6 291.4,763.8 295.7,767.2 299.8,770.7 303.8,774.4 307.6,778.2 311.1,782.2 314.5,786.3 317.6,790.6 320.5,794.9 323.2,799.4 325.6,804.0 327.8,808.7 329.8,813.5 331.5,818.3 332.9,823.2 334.1,828.2 335.0,833.2 335.7,838.2 336.1,843.2 336.2,848.3" stroke="#808080" stroke-width="1.8" fill="none" stroke-dasharray="1.8 3.2"/>
<path d="M87.80,848.30 A41.40,41.47 0 0 0 46.40,806.83" stroke="#000" stroke-width="2.2" fill="none"/>
</g>
<rect x="46.40" y="723.90" width="289.80" height="124.40" stroke="#3c3c3c" stroke-width="1.25" fill="none"/>
<rect x="290.60" y="846.80" width="8.4" height="2.0" fill="#e0142e"/>
<path d="M46.40,848.30v4.4M129.20,848.30v4.4M212.00,848.30v4.4M294.80,848.30v4.4M46.40,848.30h-4.4M46.40,806.83h-4.4M46.40,765.37h-4.4M46.40,723.90h-4.4" stroke="#222" stroke-width="1.1" fill="none"/>
<text x="41.65" y="870.10" font-family='"Liberation Sans",sans-serif' font-size="16" fill="#111">0</text>
<text x="124.45" y="870.10" font-family='"Liberation Sans",sans-serif' font-size="16" fill="#111">2</text>
<text x="207.30" y="870.10" font-family='"Liberation Sans",sans-serif' font-size="16" fill="#111">4</text>
<text x="290.00" y="870.10" font-family='"Liberation Sans",sans-serif' font-size="16" fill="#111">6</text>
<text x="27.93" y="855.50" font-family='"Liberation Sans",sans-serif' font-size="16" fill="#111">0</text>
<text x="28.08" y="814.03" font-family='"Liberation Sans",sans-serif' font-size="16" fill="#111">1</text>
<text x="28.11" y="772.57" font-family='"Liberation Sans",sans-serif' font-size="16" fill="#111">2</text>
<text x="28.00" y="731.10" font-family='"Liberation Sans",sans-serif' font-size="16" fill="#111">3</text>
<text transform="translate(17.00,787.00) rotate(-90)" x="-18.84" y="0" font-family='"Liberation Sans",sans-serif' font-size="16" fill="#111">Z[<tspan font-style="italic">R</tspan><tspan font-style="italic" font-size="11.20" dy="3.3">E</tspan><tspan dy="-3.3">]</tspan></text>
<text transform="translate(5.25,722.90) scale(0.807,1.000)" x="-0.59" y="0" font-family='"Liberation Sans",sans-serif' font-size="14" fill="#111">e</text>
<text transform="translate(13.35,722.90) scale(0.539,1.000)" x="-0.08" y="0" font-family='"Liberation Sans",sans-serif' font-size="14" fill="#111">)</text>
<text transform="translate(56.50,742.30) scale(1.200,1.000)" x="-0.62" y="0" font-family='"Liberation Serif",serif' font-size="14" font-style="italic" fill="#111">t</text>
<rect x="68.30" y="735.23" width="9.00" height="1.35" fill="#1a1a1a"/><rect x="68.30" y="738.92" width="9.00" height="1.35" fill="#1a1a1a"/>
<text transform="translate(84.00,742.30)" x="-0.92" y="0" font-family='"Liberation Serif",serif' font-size="14" font-style="italic" fill="#111">T</text>
<text transform="translate(91.60,745.10)" x="-0.36" y="0" font-family='"Liberation Serif",serif' font-size="9.5" fill="#111">0</text>
<path d="M98.00,745.10L103.20,733.30" stroke="#1a1a1a" stroke-width="1.15"/>
<text transform="translate(106.60,742.30)" x="-0.62" y="0" font-family='"Liberation Serif",serif' font-size="14" fill="#111">2</text>
<clipPath id="cR0"><rect x="394.70" y="27.00" width="289.30" height="124.00"/></clipPath>
<path d="M477.36,27.00V151.00M560.01,27.00V151.00M642.67,27.00V151.00M394.70,109.67H684.00M394.70,68.33H684.00" stroke="#c6c6c6" stroke-width="1.4" fill="none"/>
<g clip-path="url(#cR0)">
<path d="M451.0,93.0 452.1,92.6 453.1,92.1 454.2,91.6 455.2,91.2 456.3,90.7 457.3,90.3 458.4,89.9 459.4,89.5 460.5,89.1 461.5,88.7 462.6,88.3 463.7,87.9 464.7,87.6 465.8,87.2 466.9,86.8 467.9,86.5 469.0,86.2 470.1,85.8 471.1,85.5 472.2,85.2 473.3,84.9 474.4,84.6 475.4,84.4 476.5,84.1 477.6,83.8 478.7,83.6 479.8,83.3 480.9,83.1 481.9,82.9 483.0,82.7 484.1,82.4 485.2,82.2 486.3,82.0 487.4,81.9 488.4,81.7 489.5,81.5 490.6,81.4 491.7,81.2 492.8,81.1 493.9,80.9 495.0,80.8 496.1,80.7 497.2,80.6 498.3,80.5 499.4,80.4 500.4,80.3 501.5,80.2 502.6,80.1 503.7,80.1 504.8,80.0 505.9,80.0 507.0,79.9 508.1,79.9 509.2,79.9 510.3,79.9 511.4,79.9 512.5,79.9 513.6,79.9 514.7,79.9 515.8,79.9 516.9,80.0 518.0,80.0 519.0,80.0 520.1,80.1 521.2,80.2 522.3,80.2 523.4,80.3 524.5,80.4 525.6,80.5 526.7,80.6 527.8,80.7 528.9,80.8 530.0,81.0 531.1,81.1 532.1,81.2 533.2,81.4 534.3,81.5 535.4,81.7 536.5,81.9 537.6,82.0 538.7,82.2 539.7,82.4 540.8,82.6 541.9,82.8 543.0,83.0 544.1,83.3 545.1,83.5 546.2,83.7 547.3,84.0 548.4,84.2 549.4,84.5 550.5,84.7 551.6,85.0 552.7,85.3 553.7,85.6 554.8,85.8 555.9,86.1 556.9,86.4 558.0,86.8 559.1,87.1 560.1,87.4 561.2,87.7 562.2,88.1 563.3,88.4 564.4,88.8 565.4,89.1 566.5,89.5 567.5,89.9 568.6,90.2 569.6,90.6 570.6,91.0 571.7,91.4 572.7,91.8 573.8,92.2 574.8,92.7 575.8,93.1 576.9,93.5 577.9,94.0 578.9,94.4 580.0,94.8 581.0,95.3 582.0,95.8 583.0,96.2 584.1,96.7 585.1,97.2 586.1,97.7 587.1,98.2 588.1,98.7 589.1,99.2 590.1,99.7 591.1,100.2 592.1,100.7 593.1,101.3 594.1,101.8 595.1,102.4 596.1,102.9 597.1,103.5 598.0,104.0 599.0,104.6 600.0,105.2 600.9,105.8 601.9,106.3 602.9,106.9 603.8,107.5 604.8,108.1 605.7,108.7 606.6,109.4 607.6,110.0 608.5,110.6 609.4,111.2 610.3,111.9 611.3,112.5 612.2,113.2 613.1,113.8 614.0,114.5 614.8,115.2 615.7,115.9 616.6,116.5 617.5,117.2 618.3,117.9 619.2,118.6 620.1,119.3 620.9,120.0 621.7,120.7 622.6,121.5 623.4,122.2 624.2,122.9 625.0,123.7 625.8,124.4 626.6,125.2 627.4,125.9 628.2,126.7 629.0,127.4 629.7,128.2 630.5,129.0 631.2,129.8 632.0,130.6 632.7,131.4 633.4,132.2 634.2,133.0 634.9,133.8 635.6,134.6 636.2,135.4 636.9,136.2 637.6,137.1 638.2,137.9 638.9,138.8 639.4,139.7 640.0,140.6 640.5,141.5 641.0,142.4 641.4,143.4 641.8,144.4 642.1,145.4 642.4,146.4 642.6,147.5 642.7,148.6 642.7,149.8 642.7,151.0" stroke="#e8283c" stroke-width="1.8" fill="none" stroke-linejoin="round"/>
<path d="M584.20,96.60L590.00,84.90M614.10,114.70L621.40,104.20M628.70,126.10L636.80,117.00M638.00,135.00L646.40,126.60M642.00,138.20L647.20,128.80M642.40,140.40L647.50,129.50M642.00,143.70L645.30,131.00" stroke="#6468e2" stroke-width="1.1" fill="none" stroke-linecap="round"/>
<circle cx="590.00" cy="84.90" r="0.95" fill="#4a46cc"/><circle cx="621.40" cy="104.20" r="0.95" fill="#4a46cc"/><circle cx="636.80" cy="117.00" r="0.95" fill="#4a46cc"/><circle cx="646.40" cy="126.60" r="0.95" fill="#4a46cc"/><circle cx="647.20" cy="128.80" r="0.95" fill="#4a46cc"/><circle cx="647.50" cy="129.50" r="0.95" fill="#4a46cc"/><circle cx="645.30" cy="131.00" r="0.95" fill="#4a46cc"/>
<path d="M394.7,151.0 394.7,151.0 394.7,150.9 394.7,150.8 394.7,150.6 394.8,150.4 394.8,150.1 394.8,149.8 394.9,149.4 395.0,149.0 395.1,148.5 395.3,148.0 395.4,147.5 395.6,146.9 395.9,146.3 396.1,145.7 396.4,145.0 396.8,144.2 397.1,143.5 397.6,142.7 398.0,141.9 398.5,141.1 399.0,140.2 399.6,139.4 400.3,138.5 400.9,137.6 401.7,136.7 402.4,135.8 403.3,134.9 404.1,134.0 405.0,133.1 406.0,132.2 407.0,131.3 408.1,130.4 409.2,129.6 410.3,128.7 411.5,127.9 412.7,127.1 414.0,126.3 415.3,125.6 416.7,124.8 418.0,124.1 419.5,123.5 420.9,122.9 422.4,122.3 423.9,121.8 425.5,121.3 427.0,120.8 428.6,120.5 430.2,120.1 431.9,119.8 433.5,119.6 435.1,119.4 436.8,119.3 438.5,119.2 440.1,119.2 441.8,119.2 443.5,119.3 445.1,119.5 446.8,119.7 448.4,120.0 450.0,120.3 451.6,120.7 453.2,121.2 454.7,121.7 456.2,122.3 457.7,122.9 459.2,123.6 460.6,124.4 462.0,125.2 463.3,126.0 464.6,126.9 465.8,127.9 467.0,128.9 468.1,129.9 469.2,131.0 470.2,132.2 471.2,133.3 472.1,134.6 472.9,135.8 473.6,137.1 474.3,138.4 475.0,139.7 475.5,141.1 476.0,142.5 476.4,143.8 476.8,145.3 477.0,146.7 477.2,148.1 477.3,149.6 477.4,151.0" stroke="#808080" stroke-width="1.8" fill="none" stroke-dasharray="1.8 3.2"/>
<path d="M394.7,151.0 394.7,151.0 394.7,150.8 394.7,150.7 394.7,150.4 394.8,150.1 394.8,149.7 394.9,149.2 395.0,148.6 395.2,148.0 395.3,147.3 395.6,146.6 395.8,145.8 396.1,144.9 396.5,144.0 396.8,143.0 397.3,141.9 397.8,140.9 398.4,139.7 399.0,138.6 399.7,137.4 400.4,136.1 401.2,134.9 402.1,133.6 403.0,132.3 404.1,130.9 405.1,129.6 406.3,128.2 407.5,126.9 408.8,125.5 410.2,124.2 411.6,122.8 413.2,121.5 414.7,120.2 416.4,118.9 418.1,117.6 419.9,116.3 421.7,115.1 423.6,114.0 425.6,112.8 427.6,111.8 429.7,110.7 431.8,109.7 434.0,108.8 436.3,108.0 438.5,107.2 440.9,106.4 443.2,105.8 445.6,105.2 448.0,104.7 450.4,104.2 452.9,103.9 455.4,103.6 457.9,103.4 460.4,103.3 462.8,103.3 465.3,103.3 467.8,103.5 470.3,103.7 472.8,104.1 475.2,104.5 477.7,105.0 480.0,105.6 482.4,106.3 484.7,107.1 487.0,108.0 489.2,108.9 491.4,109.9 493.5,111.1 495.6,112.3 497.6,113.6 499.5,114.9 501.4,116.3 503.1,117.8 504.8,119.4 506.4,121.1 508.0,122.8 509.4,124.5 510.7,126.3 512.0,128.2 513.1,130.1 514.2,132.1 515.1,134.1 515.9,136.1 516.7,138.2 517.3,140.3 517.8,142.4 518.2,144.5 518.5,146.7 518.6,148.8 518.7,151.0" stroke="#808080" stroke-width="1.8" fill="none" stroke-dasharray="1.8 3.2"/>
<path d="M394.7,151.0 394.7,150.9 394.7,150.8 394.7,150.5 394.8,150.2 394.8,149.7 394.9,149.2 395.0,148.6 395.1,147.8 395.3,147.0 395.6,146.1 395.8,145.1 396.2,144.0 396.6,142.8 397.0,141.6 397.6,140.3 398.2,138.9 398.8,137.5 399.6,136.0 400.4,134.4 401.3,132.8 402.3,131.2 403.4,129.5 404.6,127.8 405.8,126.0 407.2,124.2 408.6,122.4 410.2,120.6 411.8,118.8 413.5,117.0 415.4,115.2 417.3,113.4 419.3,111.6 421.4,109.9 423.6,108.1 425.9,106.4 428.3,104.8 430.7,103.2 433.3,101.6 435.9,100.1 438.6,98.7 441.4,97.3 444.2,96.0 447.1,94.8 450.1,93.6 453.1,92.5 456.2,91.6 459.4,90.7 462.5,89.9 465.8,89.2 469.0,88.6 472.3,88.2 475.6,87.8 478.9,87.5 482.2,87.4 485.6,87.4 488.9,87.5 492.2,87.7 495.5,88.0 498.8,88.4 502.1,89.0 505.3,89.7 508.5,90.5 511.6,91.4 514.7,92.5 517.8,93.6 520.7,94.9 523.6,96.3 526.5,97.8 529.2,99.4 531.9,101.1 534.4,102.9 536.9,104.8 539.3,106.8 541.5,108.9 543.7,111.1 545.7,113.3 547.6,115.7 549.4,118.1 551.1,120.6 552.6,123.2 554.0,125.8 555.2,128.4 556.3,131.2 557.3,133.9 558.1,136.7 558.8,139.5 559.3,142.4 559.7,145.2 559.9,148.1 560.0,151.0" stroke="#808080" stroke-width="1.8" fill="none" stroke-dasharray="1.8 3.2"/>
<path d="M394.7,151.0 394.7,150.9 394.7,150.7 394.7,150.4 394.8,150.0 394.8,149.4 394.9,148.8 395.1,148.0 395.3,147.0 395.5,146.0 395.8,144.9 396.1,143.6 396.6,142.3 397.1,140.8 397.6,139.3 398.3,137.6 399.0,135.9 399.9,134.1 400.8,132.2 401.8,130.3 403.0,128.3 404.2,126.2 405.6,124.1 407.0,122.0 408.6,119.8 410.3,117.5 412.1,115.3 414.0,113.0 416.1,110.8 418.2,108.5 420.5,106.3 422.9,104.0 425.5,101.8 428.1,99.6 430.8,97.4 433.7,95.3 436.7,93.2 439.7,91.2 442.9,89.3 446.2,87.4 449.6,85.6 453.1,83.9 456.6,82.2 460.2,80.7 464.0,79.3 467.8,77.9 471.6,76.7 475.5,75.6 479.5,74.6 483.5,73.8 487.6,73.0 491.7,72.4 495.8,72.0 500.0,71.7 504.1,71.5 508.3,71.5 512.4,71.6 516.6,71.8 520.7,72.2 524.8,72.8 528.9,73.5 533.0,74.4 536.9,75.4 540.9,76.5 544.7,77.8 548.5,79.3 552.2,80.8 555.9,82.6 559.4,84.4 562.8,86.4 566.2,88.6 569.4,90.8 572.5,93.2 575.4,95.7 578.2,98.4 580.9,101.1 583.5,103.9 585.9,106.9 588.1,109.9 590.2,113.0 592.1,116.2 593.8,119.5 595.4,122.8 596.8,126.2 598.0,129.6 599.0,133.1 599.8,136.7 600.5,140.2 601.0,143.8 601.2,147.4 601.3,151.0" stroke="#808080" stroke-width="1.8" fill="none" stroke-dasharray="1.8 3.2"/>
<path d="M394.7,151.0 394.7,150.9 394.7,150.7 394.7,150.3 394.8,149.8 394.9,149.1 395.0,148.3 395.1,147.3 395.4,146.2 395.6,145.0 396.0,143.6 396.4,142.1 396.9,140.5 397.5,138.8 398.2,136.9 399.0,135.0 399.9,132.9 400.9,130.7 402.0,128.5 403.3,126.1 404.6,123.7 406.1,121.3 407.7,118.7 409.5,116.1 411.4,113.5 413.4,110.9 415.6,108.2 417.9,105.5 420.4,102.7 423.0,100.0 425.7,97.3 428.6,94.6 431.6,91.9 434.8,89.3 438.1,86.7 441.5,84.2 445.1,81.7 448.7,79.3 452.6,76.9 456.5,74.7 460.6,72.5 464.7,70.4 469.0,68.5 473.4,66.6 477.8,64.9 482.4,63.3 487.0,61.9 491.7,60.5 496.5,59.4 501.3,58.3 506.2,57.5 511.1,56.7 516.0,56.2 521.0,55.8 526.0,55.6 531.0,55.6 536.0,55.7 541.0,56.0 545.9,56.5 550.9,57.2 555.8,58.0 560.6,59.0 565.4,60.2 570.1,61.6 574.7,63.2 579.3,64.9 583.8,66.8 588.1,68.9 592.4,71.1 596.5,73.5 600.5,76.1 604.3,78.8 608.0,81.7 611.6,84.7 615.0,87.8 618.2,91.1 621.2,94.5 624.1,98.0 626.8,101.7 629.3,105.4 631.5,109.2 633.6,113.2 635.5,117.2 637.2,121.2 638.6,125.4 639.9,129.5 640.9,133.8 641.7,138.1 642.2,142.4 642.6,146.7 642.7,151.0" stroke="#808080" stroke-width="1.8" fill="none" stroke-dasharray="1.8 3.2"/>
<path d="M394.7,151.0 394.7,150.9 394.7,150.6 394.7,150.2 394.8,149.6 394.9,148.8 395.0,147.9 395.2,146.7 395.5,145.5 395.8,144.0 396.2,142.4 396.7,140.7 397.3,138.8 398.0,136.7 398.8,134.6 399.7,132.3 400.8,129.9 401.9,127.3 403.2,124.7 404.7,122.0 406.3,119.2 408.0,116.3 409.9,113.4 412.0,110.3 414.2,107.3 416.5,104.2 419.1,101.0 421.8,97.9 424.6,94.7 427.7,91.5 430.9,88.4 434.2,85.2 437.8,82.1 441.4,79.0 445.3,76.0 449.3,73.0 453.4,70.1 457.8,67.3 462.2,64.6 466.8,61.9 471.5,59.4 476.4,57.0 481.4,54.7 486.5,52.6 491.7,50.6 497.0,48.7 502.4,47.0 507.9,45.5 513.4,44.1 519.1,42.9 524.7,41.9 530.5,41.0 536.3,40.4 542.1,39.9 547.9,39.7 553.7,39.6 559.5,39.8 565.4,40.2 571.1,40.7 576.9,41.5 582.6,42.5 588.3,43.7 593.8,45.1 599.3,46.7 604.8,48.5 610.1,50.6 615.3,52.8 620.3,55.2 625.3,57.8 630.1,60.6 634.8,63.6 639.2,66.8 643.6,70.1 647.7,73.6 651.7,77.3 655.4,81.1 659.0,85.1 662.3,89.2 665.4,93.4 668.3,97.8 671.0,102.3 673.4,106.8 675.6,111.5 677.6,116.3 679.3,121.1 680.7,126.0 681.9,130.9 682.8,135.9 683.5,140.9 683.9,146.0 684.0,151.0" stroke="#808080" stroke-width="1.8" fill="none" stroke-dasharray="1.8 3.2"/>
<path d="M436.03,151.00 A41.33,41.33 0 0 0 394.70,109.67" stroke="#000" stroke-width="2.2" fill="none"/>
</g>
<rect x="394.70" y="27.00" width="289.30" height="124.00" stroke="#3c3c3c" stroke-width="1.25" fill="none"/>
<rect x="638.47" y="149.50" width="8.4" height="2.0" fill="#e0142e"/>
<path d="M394.70,151.00v4.4M477.36,151.00v4.4M560.01,151.00v4.4M642.67,151.00v4.4M394.70,151.00h-4.4M394.70,109.67h-4.4M394.70,68.33h-4.4M394.70,27.00h-4.4" stroke="#222" stroke-width="1.1" fill="none"/>
<text x="389.95" y="174.00" font-family='"Liberation Sans",sans-serif' font-size="16" fill="#111">0</text>
<text x="472.61" y="174.00" font-family='"Liberation Sans",sans-serif' font-size="16" fill="#111">2</text>
<text x="555.32" y="174.00" font-family='"Liberation Sans",sans-serif' font-size="16" fill="#111">4</text>
<text x="637.87" y="174.00" font-family='"Liberation Sans",sans-serif' font-size="16" fill="#111">6</text>
<text x="376.23" y="158.20" font-family='"Liberation Sans",sans-serif' font-size="16" fill="#111">0</text>
<text x="376.38" y="116.87" font-family='"Liberation Sans",sans-serif' font-size="16" fill="#111">1</text>
<text x="376.41" y="75.53" font-family='"Liberation Sans",sans-serif' font-size="16" fill="#111">2</text>
<text x="376.30" y="34.20" font-family='"Liberation Sans",sans-serif' font-size="16" fill="#111">3</text>
<text transform="translate(365.30,89.90) rotate(-90)" x="-18.84" y="0" font-family='"Liberation Sans",sans-serif' font-size="16" fill="#111">Z[<tspan font-style="italic">R</tspan><tspan font-style="italic" font-size="11.20" dy="3.3">E</tspan><tspan dy="-3.3">]</tspan></text>
<text transform="translate(350.95,32.10) scale(0.943,1.000)" x="-0.20" y="0" font-family='"Liberation Sans",sans-serif' font-size="14" fill="#111">f</text>
<text transform="translate(356.45,32.10) scale(0.566,1.000)" x="-0.08" y="0" font-family='"Liberation Sans",sans-serif' font-size="14" fill="#111">)</text>
<text transform="translate(411.10,47.50) scale(1.200,1.000)" x="-0.62" y="0" font-family='"Liberation Serif",serif' font-size="14" font-style="italic" fill="#111">t</text>
<rect x="422.90" y="40.43" width="9.00" height="1.35" fill="#1a1a1a"/><rect x="422.90" y="44.12" width="9.00" height="1.35" fill="#1a1a1a"/>
<text transform="translate(438.60,47.50)" x="-0.53" y="0" font-family='"Liberation Serif",serif' font-size="14" fill="#111">0</text>
<clipPath id="cR1"><rect x="394.70" y="202.00" width="289.30" height="122.90"/></clipPath>
<path d="M477.36,202.00V324.90M560.01,202.00V324.90M642.67,202.00V324.90M394.70,283.93H684.00M394.70,242.97H684.00" stroke="#c6c6c6" stroke-width="1.4" fill="none"/>
<g clip-path="url(#cR1)">
<path d="M464.5,261.8 465.6,261.5 466.6,261.1 467.6,260.8 468.6,260.5 469.7,260.2 470.7,259.9 471.7,259.6 472.8,259.4 473.8,259.1 474.8,258.8 475.8,258.5 476.9,258.3 477.9,258.0 478.9,257.8 480.0,257.6 481.0,257.3 482.0,257.1 483.1,256.9 484.1,256.7 485.1,256.5 486.2,256.3 487.2,256.1 488.2,256.0 489.3,255.8 490.3,255.6 491.3,255.5 492.4,255.3 493.4,255.2 494.4,255.0 495.5,254.9 496.5,254.8 497.5,254.7 498.6,254.5 499.6,254.4 500.6,254.3 501.7,254.2 502.7,254.2 503.7,254.1 504.8,254.0 505.8,254.0 506.8,253.9 507.9,253.8 508.9,253.8 509.9,253.8 511.0,253.7 512.0,253.7 513.0,253.7 514.1,253.7 515.1,253.7 516.1,253.7 517.2,253.7 518.2,253.7 519.2,253.7 520.2,253.8 521.3,253.8 522.3,253.8 523.3,253.9 524.3,254.0 525.4,254.0 526.4,254.1 527.4,254.2 528.4,254.2 529.5,254.3 530.5,254.4 531.5,254.5 532.5,254.6 533.6,254.8 534.6,254.9 535.6,255.0 536.6,255.1 537.6,255.3 538.7,255.4 539.7,255.6 540.7,255.8 541.7,255.9 542.7,256.1 543.7,256.3 544.7,256.5 545.7,256.7 546.8,256.9 547.8,257.1 548.8,257.3 549.8,257.5 550.8,257.7 551.8,258.0 552.8,258.2 553.8,258.4 554.8,258.7 555.8,258.9 556.8,259.2 557.8,259.5 558.8,259.8 559.8,260.0 560.8,260.3 561.8,260.6 562.8,260.9 563.7,261.2 564.7,261.6 565.7,261.9 566.7,262.2 567.7,262.5 568.7,262.9 569.7,263.2 570.6,263.6 571.6,263.9 572.6,264.3 573.6,264.7 574.5,265.1 575.5,265.4 576.5,265.8 577.5,266.2 578.4,266.6 579.4,267.0 580.4,267.5 581.3,267.9 582.3,268.3 583.2,268.8 584.2,269.2 585.2,269.6 586.1,270.1 587.1,270.6 588.0,271.0 589.0,271.5 589.9,272.0 590.9,272.5 591.8,272.9 592.7,273.4 593.7,273.9 594.6,274.4 595.5,275.0 596.5,275.5 597.4,276.0 598.3,276.5 599.2,277.1 600.1,277.6 601.0,278.2 601.9,278.7 602.9,279.3 603.8,279.8 604.6,280.4 605.5,281.0 606.4,281.6 607.3,282.2 608.2,282.7 609.1,283.3 609.9,283.9 610.8,284.6 611.6,285.2 612.5,285.8 613.4,286.4 614.2,287.0 615.0,287.7 615.9,288.3 616.7,289.0 617.5,289.6 618.3,290.3 619.1,290.9 619.9,291.6 620.7,292.2 621.5,292.9 622.3,293.6 623.1,294.3 623.9,295.0 624.6,295.7 625.4,296.4 626.2,297.1 626.9,297.8 627.6,298.5 628.4,299.2 629.1,299.9 629.8,300.6 630.5,301.4 631.2,302.1 631.9,302.8 632.6,303.6 633.3,304.3 634.0,305.1 634.6,305.8 635.3,306.6 635.9,307.4 636.5,308.1 637.1,308.9 637.7,309.7 638.3,310.5 638.8,311.4 639.3,312.2 639.8,313.0 640.3,313.9 640.7,314.8 641.1,315.7 641.4,316.6 641.8,317.6 642.0,318.5 642.3,319.5 642.4,320.6 642.6,321.6 642.7,322.7 642.7,323.8 642.7,324.9" stroke="#e8283c" stroke-width="1.8" fill="none" stroke-linejoin="round"/>
<path d="M507.00,253.40L506.70,240.30M579.10,266.90L584.90,254.90M602.40,279.30L609.30,268.10M615.60,288.50L622.90,277.80M624.80,295.80L633.10,284.70M631.60,301.90L639.40,292.00M636.80,306.30L644.30,297.30M640.40,310.00L647.00,301.20M641.10,313.60L646.20,302.70" stroke="#6468e2" stroke-width="1.1" fill="none" stroke-linecap="round"/>
<circle cx="506.70" cy="240.30" r="0.95" fill="#4a46cc"/><circle cx="584.90" cy="254.90" r="0.95" fill="#4a46cc"/><circle cx="609.30" cy="268.10" r="0.95" fill="#4a46cc"/><circle cx="622.90" cy="277.80" r="0.95" fill="#4a46cc"/><circle cx="633.10" cy="284.70" r="0.95" fill="#4a46cc"/><circle cx="639.40" cy="292.00" r="0.95" fill="#4a46cc"/><circle cx="644.30" cy="297.30" r="0.95" fill="#4a46cc"/><circle cx="647.00" cy="301.20" r="0.95" fill="#4a46cc"/><circle cx="646.20" cy="302.70" r="0.95" fill="#4a46cc"/>
<path d="M394.7,324.9 394.7,324.9 394.7,324.8 394.7,324.7 394.7,324.5 394.8,324.3 394.8,324.0 394.8,323.7 394.9,323.3 395.0,322.9 395.1,322.5 395.3,322.0 395.4,321.4 395.6,320.9 395.9,320.2 396.1,319.6 396.4,318.9 396.8,318.2 397.1,317.5 397.6,316.7 398.0,315.9 398.5,315.1 399.0,314.2 399.6,313.4 400.3,312.5 400.9,311.6 401.7,310.7 402.4,309.9 403.3,309.0 404.1,308.1 405.0,307.2 406.0,306.3 407.0,305.4 408.1,304.5 409.2,303.7 410.3,302.8 411.5,302.0 412.7,301.2 414.0,300.4 415.3,299.7 416.7,299.0 418.0,298.3 419.5,297.6 420.9,297.0 422.4,296.5 423.9,295.9 425.5,295.4 427.0,295.0 428.6,294.6 430.2,294.3 431.9,294.0 433.5,293.8 435.1,293.6 436.8,293.4 438.5,293.4 440.1,293.4 441.8,293.4 443.5,293.5 445.1,293.7 446.8,293.9 448.4,294.2 450.0,294.5 451.6,294.9 453.2,295.4 454.7,295.9 456.2,296.5 457.7,297.1 459.2,297.8 460.6,298.5 462.0,299.3 463.3,300.2 464.6,301.1 465.8,302.0 467.0,303.0 468.1,304.0 469.2,305.1 470.2,306.2 471.2,307.4 472.1,308.6 472.9,309.8 473.6,311.1 474.3,312.4 475.0,313.7 475.5,315.1 476.0,316.4 476.4,317.8 476.8,319.2 477.0,320.6 477.2,322.0 477.3,323.5 477.4,324.9" stroke="#808080" stroke-width="1.8" fill="none" stroke-dasharray="1.8 3.2"/>
<path d="M394.7,324.9 394.7,324.9 394.7,324.8 394.7,324.6 394.7,324.3 394.8,324.0 394.8,323.6 394.9,323.1 395.0,322.5 395.2,321.9 395.3,321.3 395.6,320.5 395.8,319.7 396.1,318.8 396.5,317.9 396.8,316.9 397.3,315.9 397.8,314.9 398.4,313.7 399.0,312.6 399.7,311.4 400.4,310.2 401.2,308.9 402.1,307.6 403.0,306.3 404.1,305.0 405.1,303.7 406.3,302.3 407.5,301.0 408.8,299.6 410.2,298.3 411.6,297.0 413.2,295.6 414.7,294.3 416.4,293.0 418.1,291.8 419.9,290.5 421.7,289.4 423.6,288.2 425.6,287.1 427.6,286.0 429.7,285.0 431.8,284.0 434.0,283.1 436.3,282.2 438.5,281.4 440.9,280.7 443.2,280.1 445.6,279.5 448.0,279.0 450.4,278.5 452.9,278.2 455.4,277.9 457.9,277.7 460.4,277.6 462.8,277.6 465.3,277.7 467.8,277.8 470.3,278.1 472.8,278.4 475.2,278.8 477.7,279.3 480.0,279.9 482.4,280.6 484.7,281.4 487.0,282.2 489.2,283.2 491.4,284.2 493.5,285.3 495.6,286.5 497.6,287.8 499.5,289.1 501.4,290.5 503.1,292.0 504.8,293.6 506.4,295.2 508.0,296.9 509.4,298.7 510.7,300.5 512.0,302.3 513.1,304.2 514.2,306.1 515.1,308.1 515.9,310.1 516.7,312.2 517.3,314.3 517.8,316.4 518.2,318.5 518.5,320.6 518.6,322.8 518.7,324.9" stroke="#808080" stroke-width="1.8" fill="none" stroke-dasharray="1.8 3.2"/>
<path d="M394.7,324.9 394.7,324.9 394.7,324.7 394.7,324.5 394.8,324.1 394.8,323.7 394.9,323.1 395.0,322.5 395.1,321.8 395.3,320.9 395.6,320.0 395.8,319.0 396.2,318.0 396.6,316.8 397.0,315.6 397.6,314.3 398.2,312.9 398.8,311.5 399.6,310.0 400.4,308.5 401.3,306.9 402.3,305.3 403.4,303.6 404.6,301.9 405.8,300.1 407.2,298.4 408.6,296.6 410.2,294.8 411.8,293.0 413.5,291.2 415.4,289.4 417.3,287.6 419.3,285.9 421.4,284.1 423.6,282.4 425.9,280.7 428.3,279.1 430.7,277.5 433.3,276.0 435.9,274.5 438.6,273.0 441.4,271.7 444.2,270.4 447.1,269.2 450.1,268.0 453.1,267.0 456.2,266.0 459.4,265.1 462.5,264.3 465.8,263.7 469.0,263.1 472.3,262.6 475.6,262.3 478.9,262.0 482.2,261.9 485.6,261.8 488.9,261.9 492.2,262.1 495.5,262.4 498.8,262.9 502.1,263.4 505.3,264.1 508.5,264.9 511.6,265.8 514.7,266.9 517.8,268.0 520.7,269.3 523.6,270.6 526.5,272.1 529.2,273.7 531.9,275.4 534.4,277.2 536.9,279.1 539.3,281.1 541.5,283.2 543.7,285.3 545.7,287.6 547.6,289.9 549.4,292.3 551.1,294.8 552.6,297.3 554.0,299.9 555.2,302.5 556.3,305.2 557.3,308.0 558.1,310.7 558.8,313.5 559.3,316.3 559.7,319.2 559.9,322.0 560.0,324.9" stroke="#808080" stroke-width="1.8" fill="none" stroke-dasharray="1.8 3.2"/>
<path d="M394.7,324.9 394.7,324.8 394.7,324.7 394.7,324.3 394.8,323.9 394.8,323.3 394.9,322.7 395.1,321.9 395.3,321.0 395.5,319.9 395.8,318.8 396.1,317.6 396.6,316.2 397.1,314.8 397.6,313.3 398.3,311.6 399.0,309.9 399.9,308.2 400.8,306.3 401.8,304.4 403.0,302.4 404.2,300.3 405.6,298.2 407.0,296.1 408.6,293.9 410.3,291.7 412.1,289.5 414.0,287.3 416.1,285.0 418.2,282.8 420.5,280.6 422.9,278.3 425.5,276.1 428.1,273.9 430.8,271.8 433.7,269.7 436.7,267.6 439.7,265.7 442.9,263.7 446.2,261.9 449.6,260.1 453.1,258.4 456.6,256.7 460.2,255.2 464.0,253.8 467.8,252.5 471.6,251.3 475.5,250.2 479.5,249.2 483.5,248.4 487.6,247.6 491.7,247.0 495.8,246.6 500.0,246.3 504.1,246.1 508.3,246.1 512.4,246.2 516.6,246.4 520.7,246.8 524.8,247.4 528.9,248.1 533.0,248.9 536.9,249.9 540.9,251.1 544.7,252.4 548.5,253.8 552.2,255.4 555.9,257.1 559.4,258.9 562.8,260.9 566.2,263.0 569.4,265.3 572.5,267.6 575.4,270.1 578.2,272.7 580.9,275.4 583.5,278.2 585.9,281.2 588.1,284.2 590.2,287.2 592.1,290.4 593.8,293.6 595.4,296.9 596.8,300.3 598.0,303.7 599.0,307.2 599.8,310.7 600.5,314.2 601.0,317.8 601.2,321.3 601.3,324.9" stroke="#808080" stroke-width="1.8" fill="none" stroke-dasharray="1.8 3.2"/>
<path d="M394.7,324.9 394.7,324.8 394.7,324.6 394.7,324.2 394.8,323.7 394.9,323.0 395.0,322.2 395.1,321.3 395.4,320.2 395.6,319.0 396.0,317.6 396.4,316.1 396.9,314.5 397.5,312.8 398.2,310.9 399.0,309.0 399.9,306.9 400.9,304.8 402.0,302.6 403.3,300.3 404.6,297.9 406.1,295.4 407.7,292.9 409.5,290.4 411.4,287.8 413.4,285.1 415.6,282.4 417.9,279.8 420.4,277.1 423.0,274.4 425.7,271.7 428.6,269.0 431.6,266.4 434.8,263.8 438.1,261.2 441.5,258.7 445.1,256.2 448.7,253.8 452.6,251.5 456.5,249.2 460.6,247.1 464.7,245.1 469.0,243.1 473.4,241.3 477.8,239.6 482.4,238.0 487.0,236.5 491.7,235.2 496.5,234.1 501.3,233.0 506.2,232.2 511.1,231.5 516.0,230.9 521.0,230.5 526.0,230.3 531.0,230.3 536.0,230.4 541.0,230.7 545.9,231.2 550.9,231.9 555.8,232.7 560.6,233.7 565.4,234.9 570.1,236.3 574.7,237.9 579.3,239.6 583.8,241.5 588.1,243.5 592.4,245.7 596.5,248.1 600.5,250.7 604.3,253.4 608.0,256.2 611.6,259.2 615.0,262.3 618.2,265.5 621.2,268.9 624.1,272.4 626.8,276.0 629.3,279.7 631.5,283.5 633.6,287.4 635.5,291.4 637.2,295.4 638.6,299.5 639.9,303.6 640.9,307.8 641.7,312.1 642.2,316.3 642.6,320.6 642.7,324.9" stroke="#808080" stroke-width="1.8" fill="none" stroke-dasharray="1.8 3.2"/>
<path d="M394.7,324.9 394.7,324.8 394.7,324.6 394.7,324.1 394.8,323.5 394.9,322.7 395.0,321.8 395.2,320.7 395.5,319.4 395.8,318.0 396.2,316.4 396.7,314.7 397.3,312.8 398.0,310.8 398.8,308.6 399.7,306.3 400.8,304.0 401.9,301.5 403.2,298.9 404.7,296.2 406.3,293.4 408.0,290.5 409.9,287.6 412.0,284.6 414.2,281.6 416.5,278.5 419.1,275.4 421.8,272.2 424.6,269.1 427.7,265.9 430.9,262.8 434.2,259.7 437.8,256.6 441.4,253.6 445.3,250.6 449.3,247.6 453.4,244.7 457.8,242.0 462.2,239.2 466.8,236.6 471.5,234.1 476.4,231.7 481.4,229.5 486.5,227.4 491.7,225.4 497.0,223.5 502.4,221.8 507.9,220.3 513.4,218.9 519.1,217.7 524.7,216.7 530.5,215.9 536.3,215.3 542.1,214.8 547.9,214.6 553.7,214.5 559.5,214.7 565.4,215.0 571.1,215.6 576.9,216.4 582.6,217.4 588.3,218.5 593.8,219.9 599.3,221.5 604.8,223.3 610.1,225.4 615.3,227.6 620.3,230.0 625.3,232.6 630.1,235.3 634.8,238.3 639.2,241.4 643.6,244.7 647.7,248.2 651.7,251.9 655.4,255.7 659.0,259.6 662.3,263.7 665.4,267.9 668.3,272.2 671.0,276.6 673.4,281.1 675.6,285.8 677.6,290.5 679.3,295.3 680.7,300.1 681.9,305.0 682.8,309.9 683.5,314.9 683.9,319.9 684.0,324.9" stroke="#808080" stroke-width="1.8" fill="none" stroke-dasharray="1.8 3.2"/>
<path d="M436.03,324.90 A41.33,40.97 0 0 0 394.70,283.93" stroke="#000" stroke-width="2.2" fill="none"/>
</g>
<rect x="394.70" y="202.00" width="289.30" height="122.90" stroke="#3c3c3c" stroke-width="1.25" fill="none"/>
<rect x="638.47" y="323.40" width="8.4" height="2.0" fill="#e0142e"/>
<path d="M394.70,324.90v4.4M477.36,324.90v4.4M560.01,324.90v4.4M642.67,324.90v4.4M394.70,324.90h-4.4M394.70,283.93h-4.4M394.70,242.97h-4.4M394.70,202.00h-4.4" stroke="#222" stroke-width="1.1" fill="none"/>
<text x="389.95" y="347.80" font-family='"Liberation Sans",sans-serif' font-size="16" fill="#111">0</text>
<text x="472.61" y="347.80" font-family='"Liberation Sans",sans-serif' font-size="16" fill="#111">2</text>
<text x="555.32" y="347.80" font-family='"Liberation Sans",sans-serif' font-size="16" fill="#111">4</text>
<text x="637.87" y="347.80" font-family='"Liberation Sans",sans-serif' font-size="16" fill="#111">6</text>
<text x="376.23" y="332.10" font-family='"Liberation Sans",sans-serif' font-size="16" fill="#111">0</text>
<text x="376.38" y="291.13" font-family='"Liberation Sans",sans-serif' font-size="16" fill="#111">1</text>
<text x="376.41" y="250.17" font-family='"Liberation Sans",sans-serif' font-size="16" fill="#111">2</text>
<text x="376.30" y="209.20" font-family='"Liberation Sans",sans-serif' font-size="16" fill="#111">3</text>
<text transform="translate(365.30,264.35) rotate(-90)" x="-18.84" y="0" font-family='"Liberation Sans",sans-serif' font-size="16" fill="#111">Z[<tspan font-style="italic">R</tspan><tspan font-style="italic" font-size="11.20" dy="3.3">E</tspan><tspan dy="-3.3">]</tspan></text>
<text transform="translate(348.55,203.00) scale(0.858,1.000)" x="-0.59" y="0" font-family='"Liberation Sans",sans-serif' font-size="14" fill="#111">g</text>
<text transform="translate(356.45,203.00) scale(0.566,1.000)" x="-0.08" y="0" font-family='"Liberation Sans",sans-serif' font-size="14" fill="#111">)</text>
<text transform="translate(412.20,222.40) scale(1.200,1.000)" x="-0.62" y="0" font-family='"Liberation Serif",serif' font-size="14" font-style="italic" fill="#111">t</text>
<rect x="424.00" y="215.32" width="9.00" height="1.35" fill="#1a1a1a"/><rect x="424.00" y="219.03" width="9.00" height="1.35" fill="#1a1a1a"/>
<text transform="translate(439.70,222.40)" x="-0.92" y="0" font-family='"Liberation Serif",serif' font-size="14" font-style="italic" fill="#111">T</text>
<text transform="translate(447.30,225.20)" x="-0.36" y="0" font-family='"Liberation Serif",serif' font-size="9.5" fill="#111">0</text>
<path d="M453.70,225.20L458.90,213.40" stroke="#1a1a1a" stroke-width="1.15"/>
<text transform="translate(462.30,222.40)" x="-0.53" y="0" font-family='"Liberation Serif",serif' font-size="14" fill="#111">8</text>
<clipPath id="cR2"><rect x="394.70" y="376.10" width="289.30" height="123.70"/></clipPath>
<path d="M477.36,376.10V499.80M560.01,376.10V499.80M642.67,376.10V499.80M394.70,458.57H684.00M394.70,417.33H684.00" stroke="#c6c6c6" stroke-width="1.4" fill="none"/>
<g clip-path="url(#cR2)">
<path d="M460.2,436.6 461.2,436.1 462.3,435.7 463.3,435.3 464.4,434.9 465.4,434.5 466.5,434.1 467.5,433.7 468.6,433.3 469.6,432.9 470.7,432.5 471.7,432.2 472.8,431.8 473.9,431.5 474.9,431.2 476.0,430.8 477.0,430.5 478.1,430.2 479.2,429.9 480.2,429.6 481.3,429.3 482.4,429.0 483.5,428.8 484.5,428.5 485.6,428.2 486.7,428.0 487.8,427.7 488.8,427.5 489.9,427.3 491.0,427.1 492.1,426.8 493.2,426.6 494.3,426.4 495.3,426.3 496.4,426.1 497.5,425.9 498.6,425.7 499.7,425.6 500.8,425.4 501.9,425.3 503.0,425.1 504.1,425.0 505.2,424.9 506.2,424.8 507.3,424.7 508.4,424.6 509.5,424.5 510.6,424.4 511.7,424.3 512.8,424.3 513.9,424.2 515.0,424.2 516.1,424.1 517.2,424.1 518.3,424.1 519.4,424.0 520.5,424.0 521.6,424.0 522.7,424.0 523.8,424.0 524.9,424.0 526.0,424.1 527.1,424.1 528.2,424.1 529.3,424.2 530.4,424.2 531.5,424.3 532.6,424.3 533.7,424.4 534.8,424.5 535.9,424.6 536.9,424.7 538.0,424.8 539.1,424.9 540.2,425.0 541.3,425.1 542.4,425.3 543.5,425.4 544.6,425.6 545.7,425.7 546.8,425.9 547.9,426.0 548.9,426.2 550.0,426.4 551.1,426.6 552.2,426.8 553.3,427.0 554.4,427.2 555.5,427.4 556.5,427.6 557.6,427.9 558.7,428.1 559.8,428.4 560.8,428.6 561.9,428.9 563.0,429.2 564.1,429.4 565.1,429.7 566.2,430.0 567.3,430.3 568.3,430.6 569.4,430.9 570.5,431.2 571.5,431.6 572.6,431.9 573.7,432.2 574.7,432.6 575.8,432.9 576.8,433.3 577.9,433.6 578.9,434.0 580.0,434.4 581.0,434.8 582.1,435.2 583.1,435.6 584.2,436.0 585.2,436.4 586.2,436.8 587.3,437.3 588.3,437.7 589.3,438.1 590.3,438.6 591.4,439.0 592.4,439.5 593.4,440.0 594.4,440.5 595.5,440.9 596.5,441.4 597.5,441.9 598.5,442.4 599.5,442.9 600.5,443.5 601.5,444.0 602.5,444.5 603.5,445.0 604.5,445.6 605.5,446.1 606.4,446.7 607.4,447.3 608.4,447.8 609.4,448.4 610.3,449.0 611.3,449.6 612.2,450.2 613.1,450.8 614.1,451.5 615.0,452.1 615.9,452.7 616.8,453.4 617.7,454.0 618.6,454.7 619.5,455.4 620.3,456.1 621.2,456.7 622.0,457.4 622.8,458.2 623.7,458.9 624.5,459.6 625.3,460.3 626.1,461.1 626.8,461.8 627.6,462.6 628.3,463.4 629.0,464.2 629.8,465.0 630.5,465.8 631.1,466.6 631.8,467.4 632.5,468.2 633.1,469.1 633.7,469.9 634.3,470.8 634.9,471.7 635.5,472.6 636.0,473.5 636.5,474.4 637.0,475.3 637.5,476.2 638.0,477.2 638.5,478.1 638.9,479.1 639.3,480.1 639.7,481.1 640.1,482.1 640.4,483.1 640.7,484.1 641.0,485.2 641.3,486.2 641.5,487.3 641.8,488.4 642.0,489.4 642.2,490.5 642.3,491.7 642.5,492.8 642.6,493.9 642.6,495.1 642.7,496.2 642.7,497.4 642.7,498.6 642.7,499.8" stroke="#e8283c" stroke-width="1.8" fill="none" stroke-linejoin="round"/>
<path d="M522.70,423.90L522.70,410.30M595.90,441.60L600.50,429.10M618.10,453.90L622.40,442.60M629.50,463.80L633.80,452.40M636.00,472.30L639.40,461.60M639.70,479.90L642.30,469.60M641.50,486.00L642.80,476.00" stroke="#6468e2" stroke-width="1.1" fill="none" stroke-linecap="round"/>
<circle cx="522.70" cy="410.30" r="0.95" fill="#4a46cc"/><circle cx="600.50" cy="429.10" r="0.95" fill="#4a46cc"/><circle cx="622.40" cy="442.60" r="0.95" fill="#4a46cc"/><circle cx="633.80" cy="452.40" r="0.95" fill="#4a46cc"/><circle cx="639.40" cy="461.60" r="0.95" fill="#4a46cc"/><circle cx="642.30" cy="469.60" r="0.95" fill="#4a46cc"/><circle cx="642.80" cy="476.00" r="0.95" fill="#4a46cc"/>
<path d="M394.7,499.8 394.7,499.8 394.7,499.7 394.7,499.6 394.7,499.4 394.8,499.2 394.8,498.9 394.8,498.6 394.9,498.2 395.0,497.8 395.1,497.4 395.3,496.9 395.4,496.3 395.6,495.7 395.9,495.1 396.1,494.5 396.4,493.8 396.8,493.1 397.1,492.3 397.6,491.5 398.0,490.7 398.5,489.9 399.0,489.1 399.6,488.2 400.3,487.3 400.9,486.5 401.7,485.6 402.4,484.7 403.3,483.8 404.1,482.8 405.0,481.9 406.0,481.0 407.0,480.2 408.1,479.3 409.2,478.4 410.3,477.6 411.5,476.7 412.7,475.9 414.0,475.2 415.3,474.4 416.7,473.7 418.0,473.0 419.5,472.4 420.9,471.7 422.4,471.2 423.9,470.6 425.5,470.2 427.0,469.7 428.6,469.3 430.2,469.0 431.9,468.7 433.5,468.5 435.1,468.3 436.8,468.1 438.5,468.1 440.1,468.1 441.8,468.1 443.5,468.2 445.1,468.4 446.8,468.6 448.4,468.9 450.0,469.2 451.6,469.6 453.2,470.1 454.7,470.6 456.2,471.2 457.7,471.8 459.2,472.5 460.6,473.2 462.0,474.0 463.3,474.9 464.6,475.8 465.8,476.7 467.0,477.8 468.1,478.8 469.2,479.9 470.2,481.0 471.2,482.2 472.1,483.4 472.9,484.6 473.6,485.9 474.3,487.2 475.0,488.5 475.5,489.9 476.0,491.3 476.4,492.7 476.8,494.1 477.0,495.5 477.2,496.9 477.3,498.4 477.4,499.8" stroke="#808080" stroke-width="1.8" fill="none" stroke-dasharray="1.8 3.2"/>
<path d="M394.7,499.8 394.7,499.8 394.7,499.6 394.7,499.5 394.7,499.2 394.8,498.9 394.8,498.5 394.9,498.0 395.0,497.4 395.2,496.8 395.3,496.1 395.6,495.4 395.8,494.6 396.1,493.7 396.5,492.8 396.8,491.8 397.3,490.8 397.8,489.7 398.4,488.6 399.0,487.4 399.7,486.2 400.4,485.0 401.2,483.7 402.1,482.4 403.0,481.1 404.1,479.8 405.1,478.4 406.3,477.1 407.5,475.7 408.8,474.4 410.2,473.0 411.6,471.7 413.2,470.3 414.7,469.0 416.4,467.7 418.1,466.5 419.9,465.2 421.7,464.0 423.6,462.9 425.6,461.7 427.6,460.6 429.7,459.6 431.8,458.6 434.0,457.7 436.3,456.9 438.5,456.1 440.9,455.3 443.2,454.7 445.6,454.1 448.0,453.6 450.4,453.1 452.9,452.8 455.4,452.5 457.9,452.3 460.4,452.2 462.8,452.2 465.3,452.3 467.8,452.4 470.3,452.7 472.8,453.0 475.2,453.4 477.7,453.9 480.0,454.5 482.4,455.2 484.7,456.0 487.0,456.9 489.2,457.8 491.4,458.8 493.5,460.0 495.6,461.2 497.6,462.4 499.5,463.8 501.4,465.2 503.1,466.7 504.8,468.3 506.4,469.9 508.0,471.6 509.4,473.4 510.7,475.2 512.0,477.1 513.1,479.0 514.2,480.9 515.1,482.9 515.9,484.9 516.7,487.0 517.3,489.1 517.8,491.2 518.2,493.3 518.5,495.5 518.6,497.6 518.7,499.8" stroke="#808080" stroke-width="1.8" fill="none" stroke-dasharray="1.8 3.2"/>
<path d="M394.7,499.8 394.7,499.7 394.7,499.6 394.7,499.3 394.8,499.0 394.8,498.6 394.9,498.0 395.0,497.4 395.1,496.6 395.3,495.8 395.6,494.9 395.8,493.9 396.2,492.8 396.6,491.7 397.0,490.4 397.6,489.1 398.2,487.8 398.8,486.3 399.6,484.8 400.4,483.3 401.3,481.7 402.3,480.0 403.4,478.3 404.6,476.6 405.8,474.9 407.2,473.1 408.6,471.3 410.2,469.5 411.8,467.7 413.5,465.9 415.4,464.1 417.3,462.3 419.3,460.5 421.4,458.8 423.6,457.0 425.9,455.4 428.3,453.7 430.7,452.1 433.3,450.5 435.9,449.0 438.6,447.6 441.4,446.2 444.2,444.9 447.1,443.7 450.1,442.5 453.1,441.5 456.2,440.5 459.4,439.6 462.5,438.9 465.8,438.2 469.0,437.6 472.3,437.1 475.6,436.7 478.9,436.5 482.2,436.3 485.6,436.3 488.9,436.4 492.2,436.6 495.5,436.9 498.8,437.4 502.1,438.0 505.3,438.6 508.5,439.4 511.6,440.4 514.7,441.4 517.8,442.5 520.7,443.8 523.6,445.2 526.5,446.7 529.2,448.3 531.9,450.0 534.4,451.8 536.9,453.7 539.3,455.7 541.5,457.8 543.7,460.0 545.7,462.2 547.6,464.6 549.4,467.0 551.1,469.5 552.6,472.0 554.0,474.6 555.2,477.3 556.3,480.0 557.3,482.7 558.1,485.5 558.8,488.4 559.3,491.2 559.7,494.1 559.9,496.9 560.0,499.8" stroke="#808080" stroke-width="1.8" fill="none" stroke-dasharray="1.8 3.2"/>
<path d="M394.7,499.8 394.7,499.7 394.7,499.5 394.7,499.2 394.8,498.8 394.8,498.2 394.9,497.6 395.1,496.8 395.3,495.8 395.5,494.8 395.8,493.7 396.1,492.4 396.6,491.1 397.1,489.6 397.6,488.1 398.3,486.5 399.0,484.7 399.9,482.9 400.8,481.1 401.8,479.1 403.0,477.1 404.2,475.1 405.6,473.0 407.0,470.8 408.6,468.6 410.3,466.4 412.1,464.2 414.0,461.9 416.1,459.7 418.2,457.4 420.5,455.2 422.9,452.9 425.5,450.7 428.1,448.5 430.8,446.4 433.7,444.2 436.7,442.2 439.7,440.2 442.9,438.2 446.2,436.3 449.6,434.5 453.1,432.8 456.6,431.2 460.2,429.7 464.0,428.2 467.8,426.9 471.6,425.7 475.5,424.6 479.5,423.6 483.5,422.8 487.6,422.0 491.7,421.4 495.8,421.0 500.0,420.7 504.1,420.5 508.3,420.5 512.4,420.6 516.6,420.8 520.7,421.2 524.8,421.8 528.9,422.5 533.0,423.3 536.9,424.3 540.9,425.5 544.7,426.8 548.5,428.2 552.2,429.8 555.9,431.5 559.4,433.4 562.8,435.4 566.2,437.5 569.4,439.8 572.5,442.2 575.4,444.7 578.2,447.3 580.9,450.0 583.5,452.8 585.9,455.8 588.1,458.8 590.2,461.9 592.1,465.1 593.8,468.3 595.4,471.7 596.8,475.0 598.0,478.5 599.0,482.0 599.8,485.5 600.5,489.0 601.0,492.6 601.2,496.2 601.3,499.8" stroke="#808080" stroke-width="1.8" fill="none" stroke-dasharray="1.8 3.2"/>
<path d="M394.7,499.8 394.7,499.7 394.7,499.5 394.7,499.1 394.8,498.6 394.9,497.9 395.0,497.1 395.1,496.2 395.4,495.1 395.6,493.8 396.0,492.5 396.4,491.0 396.9,489.3 397.5,487.6 398.2,485.8 399.0,483.8 399.9,481.7 400.9,479.6 402.0,477.3 403.3,475.0 404.6,472.6 406.1,470.1 407.7,467.6 409.5,465.0 411.4,462.4 413.4,459.8 415.6,457.1 417.9,454.4 420.4,451.7 423.0,448.9 425.7,446.2 428.6,443.5 431.6,440.9 434.8,438.3 438.1,435.7 441.5,433.1 445.1,430.6 448.7,428.2 452.6,425.9 456.5,423.7 460.6,421.5 464.7,419.4 469.0,417.5 473.4,415.6 477.8,413.9 482.4,412.3 487.0,410.9 491.7,409.6 496.5,408.4 501.3,407.4 506.2,406.5 511.1,405.8 516.0,405.2 521.0,404.8 526.0,404.6 531.0,404.6 536.0,404.7 541.0,405.0 545.9,405.5 550.9,406.2 555.8,407.0 560.6,408.0 565.4,409.3 570.1,410.6 574.7,412.2 579.3,413.9 583.8,415.8 588.1,417.9 592.4,420.1 596.5,422.5 600.5,425.1 604.3,427.8 608.0,430.6 611.6,433.7 615.0,436.8 618.2,440.1 621.2,443.5 624.1,447.0 626.8,450.6 629.3,454.3 631.5,458.1 633.6,462.0 635.5,466.0 637.2,470.1 638.6,474.2 639.9,478.4 640.9,482.6 641.7,486.9 642.2,491.2 642.6,495.5 642.7,499.8" stroke="#808080" stroke-width="1.8" fill="none" stroke-dasharray="1.8 3.2"/>
<path d="M394.7,499.8 394.7,499.7 394.7,499.4 394.7,499.0 394.8,498.4 394.9,497.6 395.0,496.7 395.2,495.5 395.5,494.3 395.8,492.8 396.2,491.2 396.7,489.5 397.3,487.6 398.0,485.6 398.8,483.4 399.7,481.1 400.8,478.7 401.9,476.2 403.2,473.6 404.7,470.9 406.3,468.1 408.0,465.2 409.9,462.2 412.0,459.2 414.2,456.2 416.5,453.1 419.1,449.9 421.8,446.8 424.6,443.6 427.7,440.5 430.9,437.3 434.2,434.2 437.8,431.1 441.4,428.0 445.3,425.0 449.3,422.0 453.4,419.1 457.8,416.3 462.2,413.6 466.8,411.0 471.5,408.4 476.4,406.0 481.4,403.8 486.5,401.6 491.7,399.6 497.0,397.8 502.4,396.1 507.9,394.5 513.4,393.1 519.1,391.9 524.7,390.9 530.5,390.1 536.3,389.5 542.1,389.0 547.9,388.8 553.7,388.7 559.5,388.9 565.4,389.2 571.1,389.8 576.9,390.6 582.6,391.6 588.3,392.8 593.8,394.2 599.3,395.8 604.8,397.6 610.1,399.6 615.3,401.8 620.3,404.2 625.3,406.8 630.1,409.6 634.8,412.6 639.2,415.8 643.6,419.1 647.7,422.6 651.7,426.3 655.4,430.1 659.0,434.1 662.3,438.2 665.4,442.4 668.3,446.7 671.0,451.2 673.4,455.8 675.6,460.4 677.6,465.1 679.3,470.0 680.7,474.8 681.9,479.8 682.8,484.7 683.5,489.7 683.9,494.8 684.0,499.8" stroke="#808080" stroke-width="1.8" fill="none" stroke-dasharray="1.8 3.2"/>
<path d="M436.03,499.80 A41.33,41.23 0 0 0 394.70,458.57" stroke="#000" stroke-width="2.2" fill="none"/>
</g>
<rect x="394.70" y="376.10" width="289.30" height="123.70" stroke="#3c3c3c" stroke-width="1.25" fill="none"/>
<rect x="638.47" y="498.30" width="8.4" height="2.0" fill="#e0142e"/>
<path d="M394.70,499.80v4.4M477.36,499.80v4.4M560.01,499.80v4.4M642.67,499.80v4.4M394.70,499.80h-4.4M394.70,458.57h-4.4M394.70,417.33h-4.4M394.70,376.10h-4.4" stroke="#222" stroke-width="1.1" fill="none"/>
<text x="389.95" y="522.30" font-family='"Liberation Sans",sans-serif' font-size="16" fill="#111">0</text>
<text x="472.61" y="522.30" font-family='"Liberation Sans",sans-serif' font-size="16" fill="#111">2</text>
<text x="555.32" y="522.30" font-family='"Liberation Sans",sans-serif' font-size="16" fill="#111">4</text>
<text x="637.87" y="522.30" font-family='"Liberation Sans",sans-serif' font-size="16" fill="#111">6</text>
<text x="376.23" y="507.00" font-family='"Liberation Sans",sans-serif' font-size="16" fill="#111">0</text>
<text x="376.38" y="465.77" font-family='"Liberation Sans",sans-serif' font-size="16" fill="#111">1</text>
<text x="376.41" y="424.53" font-family='"Liberation Sans",sans-serif' font-size="16" fill="#111">2</text>
<text x="376.30" y="383.30" font-family='"Liberation Sans",sans-serif' font-size="16" fill="#111">3</text>
<text transform="translate(365.30,438.85) rotate(-90)" x="-18.84" y="0" font-family='"Liberation Sans",sans-serif' font-size="16" fill="#111">Z[<tspan font-style="italic">R</tspan><tspan font-style="italic" font-size="11.20" dy="3.3">E</tspan><tspan dy="-3.3">]</tspan></text>
<text transform="translate(352.05,378.10) scale(0.914,1.000)" x="-0.97" y="0" font-family='"Liberation Sans",sans-serif' font-size="14" fill="#111">h</text>
<text transform="translate(360.15,378.10) scale(0.566,1.000)" x="-0.08" y="0" font-family='"Liberation Sans",sans-serif' font-size="14" fill="#111">)</text>
<text transform="translate(411.10,394.30) scale(1.200,1.000)" x="-0.62" y="0" font-family='"Liberation Serif",serif' font-size="14" font-style="italic" fill="#111">t</text>
<rect x="422.90" y="387.23" width="9.00" height="1.35" fill="#1a1a1a"/><rect x="422.90" y="390.93" width="9.00" height="1.35" fill="#1a1a1a"/>
<text transform="translate(438.60,394.30)" x="-0.92" y="0" font-family='"Liberation Serif",serif' font-size="14" font-style="italic" fill="#111">T</text>
<text transform="translate(446.20,397.10)" x="-0.36" y="0" font-family='"Liberation Serif",serif' font-size="9.5" fill="#111">0</text>
<path d="M452.60,397.10L457.80,385.30" stroke="#1a1a1a" stroke-width="1.15"/>
<text transform="translate(461.20,394.30)" x="-0.27" y="0" font-family='"Liberation Serif",serif' font-size="14" fill="#111">4</text>
<clipPath id="cR3"><rect x="394.70" y="550.00" width="289.30" height="124.10"/></clipPath>
<path d="M477.36,550.00V674.10M560.01,550.00V674.10M642.67,550.00V674.10M394.70,632.73H684.00M394.70,591.37H684.00" stroke="#c6c6c6" stroke-width="1.4" fill="none"/>
<g clip-path="url(#cR3)">
<path d="M480.9,586.8 483.0,586.1 485.1,585.5 487.2,584.8 489.3,584.2 491.5,583.6 493.6,583.1 495.8,582.5 497.9,582.0 500.1,581.6 502.3,581.2 504.5,580.8 506.8,580.4 509.0,580.0 511.2,579.7 513.5,579.5 515.7,579.2 518.0,579.0 520.2,578.9 522.5,578.7 524.7,578.7 527.0,578.6 529.3,578.6 531.5,578.6 533.8,578.6 536.0,578.7 538.3,578.8 540.6,579.0 542.8,579.2 545.1,579.4 547.3,579.7 549.5,580.0 551.8,580.3 554.0,580.7 556.2,581.1 558.4,581.6 560.6,582.0 562.8,582.6 564.9,583.1 567.1,583.7 569.2,584.4 571.3,585.0 573.4,585.7 575.5,586.5 577.6,587.3 579.6,588.1 581.7,588.9 583.7,589.8 585.7,590.7 587.6,591.7 589.6,592.7 591.5,593.7 593.4,594.7 595.2,595.8 597.1,597.0 598.9,598.1 600.7,599.3 602.5,600.5 604.2,601.8 605.9,603.0 607.6,604.4 609.2,605.7 610.8,607.1 612.4,608.5 613.9,609.9 615.4,611.3 616.9,612.8 618.3,614.3 619.7,615.8 621.1,617.4 622.4,619.0 623.7,620.6 624.9,622.2 626.2,623.9 627.3,625.5 628.5,627.2 629.5,628.9 630.6,630.7 631.6,632.4 632.6,634.2 633.5,636.0 634.4,637.8 635.2,639.6 636.0,641.4 636.8,643.3 637.5,645.1 638.1,647.0 638.8,648.9 639.3,650.8 639.9,652.7 640.4,654.6 640.8,656.5 641.2,658.5 641.5,660.4 641.8,662.4 642.1,664.3 642.3,666.3 642.5,668.2 642.6,670.2 642.6,672.1 642.7,674.1" stroke="#e8283c" stroke-width="1.8" fill="none" stroke-linejoin="round"/>
<path d="M508.10,578.40L502.00,567.90M558.40,580.10L553.60,568.00M590.10,592.10L586.50,580.10M612.00,606.70L608.40,594.70M624.80,620.20L620.40,611.10M637.50,640.00L636.00,634.00" stroke="#6468e2" stroke-width="1.1" fill="none" stroke-linecap="round"/>
<circle cx="502.00" cy="567.90" r="0.95" fill="#4a46cc"/><circle cx="553.60" cy="568.00" r="0.95" fill="#4a46cc"/><circle cx="586.50" cy="580.10" r="0.95" fill="#4a46cc"/><circle cx="608.40" cy="594.70" r="0.95" fill="#4a46cc"/><circle cx="620.40" cy="611.10" r="0.95" fill="#4a46cc"/><circle cx="636.00" cy="634.00" r="0.95" fill="#4a46cc"/>
<path d="M394.7,674.1 394.7,674.1 394.7,674.0 394.7,673.9 394.7,673.7 394.8,673.5 394.8,673.2 394.8,672.9 394.9,672.5 395.0,672.1 395.1,671.6 395.3,671.1 395.4,670.6 395.6,670.0 395.9,669.4 396.1,668.7 396.4,668.1 396.8,667.3 397.1,666.6 397.6,665.8 398.0,665.0 398.5,664.2 399.0,663.3 399.6,662.5 400.3,661.6 400.9,660.7 401.7,659.8 402.4,658.9 403.3,658.0 404.1,657.1 405.0,656.2 406.0,655.3 407.0,654.4 408.1,653.5 409.2,652.7 410.3,651.8 411.5,651.0 412.7,650.2 414.0,649.4 415.3,648.6 416.7,647.9 418.0,647.2 419.5,646.6 420.9,646.0 422.4,645.4 423.9,644.8 425.5,644.4 427.0,643.9 428.6,643.5 430.2,643.2 431.9,642.9 433.5,642.7 435.1,642.5 436.8,642.3 438.5,642.3 440.1,642.3 441.8,642.3 443.5,642.4 445.1,642.6 446.8,642.8 448.4,643.1 450.0,643.4 451.6,643.8 453.2,644.3 454.7,644.8 456.2,645.4 457.7,646.0 459.2,646.7 460.6,647.5 462.0,648.3 463.3,649.1 464.6,650.0 465.8,651.0 467.0,652.0 468.1,653.0 469.2,654.1 470.2,655.3 471.2,656.4 472.1,657.6 472.9,658.9 473.6,660.2 474.3,661.5 475.0,662.8 475.5,664.2 476.0,665.5 476.4,666.9 476.8,668.4 477.0,669.8 477.2,671.2 477.3,672.7 477.4,674.1" stroke="#808080" stroke-width="1.8" fill="none" stroke-dasharray="1.8 3.2"/>
<path d="M394.7,674.1 394.7,674.1 394.7,673.9 394.7,673.8 394.7,673.5 394.8,673.2 394.8,672.8 394.9,672.3 395.0,671.7 395.2,671.1 395.3,670.4 395.6,669.7 395.8,668.9 396.1,668.0 396.5,667.1 396.8,666.1 397.3,665.0 397.8,664.0 398.4,662.8 399.0,661.7 399.7,660.5 400.4,659.2 401.2,658.0 402.1,656.7 403.0,655.3 404.1,654.0 405.1,652.7 406.3,651.3 407.5,649.9 408.8,648.6 410.2,647.2 411.6,645.9 413.2,644.5 414.7,643.2 416.4,641.9 418.1,640.7 419.9,639.4 421.7,638.2 423.6,637.0 425.6,635.9 427.6,634.8 429.7,633.8 431.8,632.8 434.0,631.9 436.3,631.0 438.5,630.2 440.9,629.5 443.2,628.8 445.6,628.2 448.0,627.7 450.4,627.3 452.9,626.9 455.4,626.7 457.9,626.5 460.4,626.4 462.8,626.3 465.3,626.4 467.8,626.6 470.3,626.8 472.8,627.1 475.2,627.6 477.7,628.1 480.0,628.7 482.4,629.4 484.7,630.2 487.0,631.0 489.2,632.0 491.4,633.0 493.5,634.1 495.6,635.3 497.6,636.6 499.5,638.0 501.4,639.4 503.1,640.9 504.8,642.5 506.4,644.1 508.0,645.8 509.4,647.6 510.7,649.4 512.0,651.3 513.1,653.2 514.2,655.2 515.1,657.2 515.9,659.2 516.7,661.3 517.3,663.4 517.8,665.5 518.2,667.6 518.5,669.8 518.6,671.9 518.7,674.1" stroke="#808080" stroke-width="1.8" fill="none" stroke-dasharray="1.8 3.2"/>
<path d="M394.7,674.1 394.7,674.0 394.7,673.9 394.7,673.6 394.8,673.3 394.8,672.8 394.9,672.3 395.0,671.7 395.1,670.9 395.3,670.1 395.6,669.2 395.8,668.2 396.2,667.1 396.6,665.9 397.0,664.7 397.6,663.4 398.2,662.0 398.8,660.6 399.6,659.1 400.4,657.5 401.3,655.9 402.3,654.3 403.4,652.6 404.6,650.8 405.8,649.1 407.2,647.3 408.6,645.5 410.2,643.7 411.8,641.9 413.5,640.1 415.4,638.3 417.3,636.5 419.3,634.7 421.4,632.9 423.6,631.2 425.9,629.5 428.3,627.9 430.7,626.2 433.3,624.7 435.9,623.2 438.6,621.7 441.4,620.4 444.2,619.0 447.1,617.8 450.1,616.7 453.1,615.6 456.2,614.6 459.4,613.7 462.5,613.0 465.8,612.3 469.0,611.7 472.3,611.2 475.6,610.8 478.9,610.6 482.2,610.4 485.6,610.4 488.9,610.5 492.2,610.7 495.5,611.0 498.8,611.5 502.1,612.1 505.3,612.7 508.5,613.5 511.6,614.5 514.7,615.5 517.8,616.7 520.7,617.9 523.6,619.3 526.5,620.8 529.2,622.4 531.9,624.1 534.4,625.9 536.9,627.9 539.3,629.9 541.5,632.0 543.7,634.1 545.7,636.4 547.6,638.8 549.4,641.2 551.1,643.7 552.6,646.2 554.0,648.8 555.2,651.5 556.3,654.2 557.3,657.0 558.1,659.8 558.8,662.6 559.3,665.5 559.7,668.3 559.9,671.2 560.0,674.1" stroke="#808080" stroke-width="1.8" fill="none" stroke-dasharray="1.8 3.2"/>
<path d="M394.7,674.1 394.7,674.0 394.7,673.8 394.7,673.5 394.8,673.1 394.8,672.5 394.9,671.9 395.1,671.1 395.3,670.1 395.5,669.1 395.8,668.0 396.1,666.7 396.6,665.4 397.1,663.9 397.6,662.4 398.3,660.7 399.0,659.0 399.9,657.2 400.8,655.3 401.8,653.4 403.0,651.4 404.2,649.3 405.6,647.2 407.0,645.0 408.6,642.8 410.3,640.6 412.1,638.4 414.0,636.1 416.1,633.8 418.2,631.6 420.5,629.3 422.9,627.1 425.5,624.8 428.1,622.6 430.8,620.5 433.7,618.4 436.7,616.3 439.7,614.3 442.9,612.3 446.2,610.4 449.6,608.6 453.1,606.9 456.6,605.3 460.2,603.7 464.0,602.3 467.8,601.0 471.6,599.8 475.5,598.7 479.5,597.7 483.5,596.8 487.6,596.1 491.7,595.5 495.8,595.0 500.0,594.7 504.1,594.5 508.3,594.5 512.4,594.6 516.6,594.9 520.7,595.3 524.8,595.8 528.9,596.5 533.0,597.4 536.9,598.4 540.9,599.6 544.7,600.9 548.5,602.3 552.2,603.9 555.9,605.6 559.4,607.5 562.8,609.5 566.2,611.6 569.4,613.9 572.5,616.3 575.4,618.8 578.2,621.4 580.9,624.2 583.5,627.0 585.9,629.9 588.1,633.0 590.2,636.1 592.1,639.3 593.8,642.5 595.4,645.9 596.8,649.3 598.0,652.7 599.0,656.2 599.8,659.7 600.5,663.3 601.0,666.9 601.2,670.5 601.3,674.1" stroke="#808080" stroke-width="1.8" fill="none" stroke-dasharray="1.8 3.2"/>
<path d="M394.7,674.1 394.7,674.0 394.7,673.8 394.7,673.4 394.8,672.9 394.9,672.2 395.0,671.4 395.1,670.4 395.4,669.3 395.6,668.1 396.0,666.7 396.4,665.2 396.9,663.6 397.5,661.9 398.2,660.0 399.0,658.0 399.9,656.0 400.9,653.8 402.0,651.6 403.3,649.2 404.6,646.8 406.1,644.3 407.7,641.8 409.5,639.2 411.4,636.6 413.4,633.9 415.6,631.2 417.9,628.5 420.4,625.8 423.0,623.1 425.7,620.4 428.6,617.7 431.6,615.0 434.8,612.4 438.1,609.8 441.5,607.2 445.1,604.7 448.7,602.3 452.6,600.0 456.5,597.7 460.6,595.5 464.7,593.5 469.0,591.5 473.4,589.7 477.8,587.9 482.4,586.3 487.0,584.9 491.7,583.6 496.5,582.4 501.3,581.4 506.2,580.5 511.1,579.8 516.0,579.2 521.0,578.8 526.0,578.6 531.0,578.6 536.0,578.7 541.0,579.0 545.9,579.5 550.9,580.2 555.8,581.0 560.6,582.1 565.4,583.3 570.1,584.6 574.7,586.2 579.3,587.9 583.8,589.8 588.1,591.9 592.4,594.2 596.5,596.6 600.5,599.1 604.3,601.9 608.0,604.7 611.6,607.7 615.0,610.9 618.2,614.2 621.2,617.6 624.1,621.1 626.8,624.7 629.3,628.5 631.5,632.3 633.6,636.2 635.5,640.2 637.2,644.3 638.6,648.4 639.9,652.6 640.9,656.9 641.7,661.1 642.2,665.4 642.6,669.8 642.7,674.1" stroke="#808080" stroke-width="1.8" fill="none" stroke-dasharray="1.8 3.2"/>
<path d="M394.7,674.1 394.7,674.0 394.7,673.7 394.7,673.3 394.8,672.7 394.9,671.9 395.0,671.0 395.2,669.8 395.5,668.5 395.8,667.1 396.2,665.5 396.7,663.8 397.3,661.9 398.0,659.8 398.8,657.7 399.7,655.4 400.8,653.0 401.9,650.4 403.2,647.8 404.7,645.1 406.3,642.3 408.0,639.4 409.9,636.4 412.0,633.4 414.2,630.3 416.5,627.2 419.1,624.1 421.8,620.9 424.6,617.7 427.7,614.6 430.9,611.4 434.2,608.3 437.8,605.1 441.4,602.1 445.3,599.0 449.3,596.1 453.4,593.2 457.8,590.3 462.2,587.6 466.8,585.0 471.5,582.4 476.4,580.0 481.4,577.8 486.5,575.6 491.7,573.6 497.0,571.7 502.4,570.0 507.9,568.5 513.4,567.1 519.1,565.9 524.7,564.9 530.5,564.0 536.3,563.4 542.1,563.0 547.9,562.7 553.7,562.7 559.5,562.8 565.4,563.2 571.1,563.7 576.9,564.5 582.6,565.5 588.3,566.7 593.8,568.1 599.3,569.7 604.8,571.6 610.1,573.6 615.3,575.8 620.3,578.2 625.3,580.8 630.1,583.7 634.8,586.6 639.2,589.8 643.6,593.2 647.7,596.7 651.7,600.3 655.4,604.2 659.0,608.1 662.3,612.3 665.4,616.5 668.3,620.9 671.0,625.3 673.4,629.9 675.6,634.6 677.6,639.3 679.3,644.2 680.7,649.1 681.9,654.0 682.8,659.0 683.5,664.0 683.9,669.0 684.0,674.1" stroke="#808080" stroke-width="1.8" fill="none" stroke-dasharray="1.8 3.2"/>
<path d="M436.03,674.10 A41.33,41.37 0 0 0 394.70,632.73" stroke="#000" stroke-width="2.2" fill="none"/>
</g>
<rect x="394.70" y="550.00" width="289.30" height="124.10" stroke="#3c3c3c" stroke-width="1.25" fill="none"/>
<rect x="638.47" y="672.60" width="8.4" height="2.0" fill="#e0142e"/>
<path d="M394.70,674.10v4.4M477.36,674.10v4.4M560.01,674.10v4.4M642.67,674.10v4.4M394.70,674.10h-4.4M394.70,632.73h-4.4M394.70,591.37h-4.4M394.70,550.00h-4.4" stroke="#222" stroke-width="1.1" fill="none"/>
<text x="389.95" y="696.30" font-family='"Liberation Sans",sans-serif' font-size="16" fill="#111">0</text>
<text x="472.61" y="696.30" font-family='"Liberation Sans",sans-serif' font-size="16" fill="#111">2</text>
<text x="555.32" y="696.30" font-family='"Liberation Sans",sans-serif' font-size="16" fill="#111">4</text>
<text x="637.87" y="696.30" font-family='"Liberation Sans",sans-serif' font-size="16" fill="#111">6</text>
<text x="376.23" y="681.30" font-family='"Liberation Sans",sans-serif' font-size="16" fill="#111">0</text>
<text x="376.38" y="639.93" font-family='"Liberation Sans",sans-serif' font-size="16" fill="#111">1</text>
<text x="376.41" y="598.57" font-family='"Liberation Sans",sans-serif' font-size="16" fill="#111">2</text>
<text x="376.30" y="557.20" font-family='"Liberation Sans",sans-serif' font-size="16" fill="#111">3</text>
<text transform="translate(365.30,612.95) rotate(-90)" x="-18.84" y="0" font-family='"Liberation Sans",sans-serif' font-size="16" fill="#111">Z[<tspan font-style="italic">R</tspan><tspan font-style="italic" font-size="11.20" dy="3.3">E</tspan><tspan dy="-3.3">]</tspan></text>
<text transform="translate(351.15,552.90) scale(0.650,1.000)" x="-0.94" y="0" font-family='"Liberation Sans",sans-serif' font-size="14" fill="#111">i</text>
<text transform="translate(354.65,552.90) scale(0.512,1.000)" x="-0.08" y="0" font-family='"Liberation Sans",sans-serif' font-size="14" fill="#111">)</text>
<text transform="translate(407.00,568.80) scale(1.200,1.000)" x="-0.62" y="0" font-family='"Liberation Serif",serif' font-size="14" font-style="italic" fill="#111">t</text>
<rect x="418.80" y="561.73" width="9.00" height="1.35" fill="#1a1a1a"/><rect x="418.80" y="565.42" width="9.00" height="1.35" fill="#1a1a1a"/>
<text transform="translate(434.50,568.80)" x="-0.67" y="0" font-family='"Liberation Serif",serif' font-size="14" fill="#111">3</text>
<text transform="translate(441.20,568.80)" x="-0.92" y="0" font-family='"Liberation Serif",serif' font-size="14" font-style="italic" fill="#111">T</text>
<text transform="translate(448.80,571.60)" x="-0.36" y="0" font-family='"Liberation Serif",serif' font-size="9.5" fill="#111">0</text>
<path d="M455.20,571.60L460.40,559.80" stroke="#1a1a1a" stroke-width="1.15"/>
<text transform="translate(463.80,568.80)" x="-0.53" y="0" font-family='"Liberation Serif",serif' font-size="14" fill="#111">8</text>
<clipPath id="cR4"><rect x="394.70" y="724.10" width="289.30" height="124.20"/></clipPath>
<path d="M477.36,724.10V848.30M560.01,724.10V848.30M642.67,724.10V848.30M394.70,806.90H684.00M394.70,765.50H684.00" stroke="#c6c6c6" stroke-width="1.4" fill="none"/>
<g clip-path="url(#cR4)">
<path d="M477.9,762.0 480.0,761.3 482.1,760.6 484.2,759.9 486.3,759.2 488.5,758.6 490.6,758.0 492.8,757.4 495.0,756.9 497.2,756.3 499.4,755.9 501.7,755.4 503.9,755.0 506.1,754.6 508.4,754.3 510.7,753.9 512.9,753.7 515.2,753.4 517.5,753.2 519.8,753.0 522.1,752.9 524.4,752.8 526.7,752.7 529.0,752.7 531.3,752.7 533.6,752.7 535.9,752.8 538.1,752.9 540.4,753.1 542.7,753.3 545.0,753.5 547.3,753.8 549.5,754.1 551.8,754.4 554.1,754.8 556.3,755.3 558.5,755.7 560.8,756.2 563.0,756.7 565.2,757.3 567.3,757.9 569.5,758.6 571.6,759.3 573.8,760.0 575.9,760.8 578.0,761.5 580.1,762.4 582.1,763.3 584.1,764.2 586.2,765.1 588.1,766.1 590.1,767.1 592.0,768.1 594.0,769.2 595.8,770.3 597.7,771.5 599.5,772.7 601.3,773.9 603.1,775.1 604.9,776.4 606.6,777.7 608.3,779.1 609.9,780.4 611.5,781.8 613.1,783.3 614.6,784.7 616.2,786.2 617.6,787.7 619.1,789.3 620.5,790.8 621.8,792.4 623.1,794.1 624.4,795.7 625.7,797.4 626.9,799.1 628.0,800.8 629.2,802.5 630.2,804.2 631.3,806.0 632.3,807.8 633.2,809.6 634.1,811.4 635.0,813.3 635.8,815.1 636.6,817.0 637.3,818.9 638.0,820.8 638.6,822.7 639.2,824.6 639.8,826.6 640.3,828.5 640.7,830.5 641.1,832.4 641.5,834.4 641.8,836.4 642.1,838.4 642.3,840.3 642.5,842.3 642.6,844.3 642.6,846.3 642.7,848.3" stroke="#e8283c" stroke-width="1.8" fill="none" stroke-linejoin="round"/>
<path d="M503.70,753.80L495.00,744.60M555.40,754.10L551.10,742.00M589.00,766.10L585.40,753.00M611.30,780.70L608.40,768.70M623.70,793.50L620.40,785.10" stroke="#6468e2" stroke-width="1.1" fill="none" stroke-linecap="round"/>
<circle cx="495.00" cy="744.60" r="0.95" fill="#4a46cc"/><circle cx="551.10" cy="742.00" r="0.95" fill="#4a46cc"/><circle cx="585.40" cy="753.00" r="0.95" fill="#4a46cc"/><circle cx="608.40" cy="768.70" r="0.95" fill="#4a46cc"/><circle cx="620.40" cy="785.10" r="0.95" fill="#4a46cc"/>
<path d="M394.7,848.3 394.7,848.3 394.7,848.2 394.7,848.1 394.7,847.9 394.8,847.7 394.8,847.4 394.8,847.1 394.9,846.7 395.0,846.3 395.1,845.8 395.3,845.3 395.4,844.8 395.6,844.2 395.9,843.6 396.1,842.9 396.4,842.3 396.8,841.5 397.1,840.8 397.6,840.0 398.0,839.2 398.5,838.4 399.0,837.5 399.6,836.7 400.3,835.8 400.9,834.9 401.7,834.0 402.4,833.1 403.3,832.2 404.1,831.3 405.0,830.4 406.0,829.5 407.0,828.6 408.1,827.7 409.2,826.8 410.3,826.0 411.5,825.2 412.7,824.4 414.0,823.6 415.3,822.8 416.7,822.1 418.0,821.4 419.5,820.7 420.9,820.1 422.4,819.6 423.9,819.0 425.5,818.5 427.0,818.1 428.6,817.7 430.2,817.4 431.9,817.1 433.5,816.8 435.1,816.6 436.8,816.5 438.5,816.4 440.1,816.4 441.8,816.5 443.5,816.6 445.1,816.7 446.8,817.0 448.4,817.2 450.0,817.6 451.6,818.0 453.2,818.5 454.7,819.0 456.2,819.6 457.7,820.2 459.2,820.9 460.6,821.6 462.0,822.4 463.3,823.3 464.6,824.2 465.8,825.2 467.0,826.2 468.1,827.2 469.2,828.3 470.2,829.4 471.2,830.6 472.1,831.8 472.9,833.1 473.6,834.4 474.3,835.7 475.0,837.0 475.5,838.4 476.0,839.7 476.4,841.1 476.8,842.6 477.0,844.0 477.2,845.4 477.3,846.9 477.4,848.3" stroke="#808080" stroke-width="1.8" fill="none" stroke-dasharray="1.8 3.2"/>
<path d="M394.7,848.3 394.7,848.3 394.7,848.1 394.7,848.0 394.7,847.7 394.8,847.4 394.8,847.0 394.9,846.5 395.0,845.9 395.2,845.3 395.3,844.6 395.6,843.9 395.8,843.0 396.1,842.2 396.5,841.2 396.8,840.3 397.3,839.2 397.8,838.1 398.4,837.0 399.0,835.9 399.7,834.6 400.4,833.4 401.2,832.1 402.1,830.8 403.0,829.5 404.1,828.2 405.1,826.8 406.3,825.5 407.5,824.1 408.8,822.8 410.2,821.4 411.6,820.1 413.2,818.7 414.7,817.4 416.4,816.1 418.1,814.8 419.9,813.6 421.7,812.4 423.6,811.2 425.6,810.1 427.6,809.0 429.7,808.0 431.8,807.0 434.0,806.1 436.3,805.2 438.5,804.4 440.9,803.7 443.2,803.0 445.6,802.4 448.0,801.9 450.4,801.5 452.9,801.1 455.4,800.8 457.9,800.6 460.4,800.5 462.8,800.5 465.3,800.6 467.8,800.7 470.3,801.0 472.8,801.3 475.2,801.7 477.7,802.2 480.0,802.8 482.4,803.5 484.7,804.3 487.0,805.2 489.2,806.1 491.4,807.2 493.5,808.3 495.6,809.5 497.6,810.8 499.5,812.2 501.4,813.6 503.1,815.1 504.8,816.7 506.4,818.3 508.0,820.0 509.4,821.8 510.7,823.6 512.0,825.5 513.1,827.4 514.2,829.3 515.1,831.3 515.9,833.4 516.7,835.5 517.3,837.6 517.8,839.7 518.2,841.8 518.5,844.0 518.6,846.1 518.7,848.3" stroke="#808080" stroke-width="1.8" fill="none" stroke-dasharray="1.8 3.2"/>
<path d="M394.7,848.3 394.7,848.2 394.7,848.1 394.7,847.8 394.8,847.5 394.8,847.0 394.9,846.5 395.0,845.9 395.1,845.1 395.3,844.3 395.6,843.4 395.8,842.4 396.2,841.3 396.6,840.1 397.0,838.9 397.6,837.6 398.2,836.2 398.8,834.8 399.6,833.3 400.4,831.7 401.3,830.1 402.3,828.4 403.4,826.8 404.6,825.0 405.8,823.3 407.2,821.5 408.6,819.7 410.2,817.9 411.8,816.1 413.5,814.3 415.4,812.4 417.3,810.6 419.3,808.9 421.4,807.1 423.6,805.4 425.9,803.7 428.3,802.0 430.7,800.4 433.3,798.8 435.9,797.3 438.6,795.9 441.4,794.5 444.2,793.2 447.1,792.0 450.1,790.8 453.1,789.8 456.2,788.8 459.4,787.9 462.5,787.1 465.8,786.4 469.0,785.8 472.3,785.4 475.6,785.0 478.9,784.7 482.2,784.6 485.6,784.6 488.9,784.7 492.2,784.9 495.5,785.2 498.8,785.6 502.1,786.2 505.3,786.9 508.5,787.7 511.6,788.6 514.7,789.7 517.8,790.8 520.7,792.1 523.6,793.5 526.5,795.0 529.2,796.6 531.9,798.3 534.4,800.1 536.9,802.0 539.3,804.0 541.5,806.1 543.7,808.3 545.7,810.6 547.6,812.9 549.4,815.4 551.1,817.9 552.6,820.4 554.0,823.0 555.2,825.7 556.3,828.4 557.3,831.2 558.1,834.0 558.8,836.8 559.3,839.7 559.7,842.5 559.9,845.4 560.0,848.3" stroke="#808080" stroke-width="1.8" fill="none" stroke-dasharray="1.8 3.2"/>
<path d="M394.7,848.3 394.7,848.2 394.7,848.0 394.7,847.7 394.8,847.3 394.8,846.7 394.9,846.1 395.1,845.2 395.3,844.3 395.5,843.3 395.8,842.2 396.1,840.9 396.6,839.5 397.1,838.1 397.6,836.5 398.3,834.9 399.0,833.2 399.9,831.4 400.8,829.5 401.8,827.6 403.0,825.5 404.2,823.5 405.6,821.4 407.0,819.2 408.6,817.0 410.3,814.8 412.1,812.5 414.0,810.3 416.1,808.0 418.2,805.7 420.5,803.5 422.9,801.2 425.5,799.0 428.1,796.8 430.8,794.6 433.7,792.5 436.7,790.4 439.7,788.4 442.9,786.5 446.2,784.6 449.6,782.8 453.1,781.1 456.6,779.4 460.2,777.9 464.0,776.4 467.8,775.1 471.6,773.9 475.5,772.8 479.5,771.8 483.5,770.9 487.6,770.2 491.7,769.6 495.8,769.2 500.0,768.8 504.1,768.7 508.3,768.6 512.4,768.7 516.6,769.0 520.7,769.4 524.8,770.0 528.9,770.7 533.0,771.5 536.9,772.5 540.9,773.7 544.7,775.0 548.5,776.4 552.2,778.0 555.9,779.8 559.4,781.6 562.8,783.6 566.2,785.8 569.4,788.1 572.5,790.4 575.4,793.0 578.2,795.6 580.9,798.3 583.5,801.2 585.9,804.1 588.1,807.1 590.2,810.2 592.1,813.4 593.8,816.7 595.4,820.0 596.8,823.4 598.0,826.9 599.0,830.4 599.8,833.9 600.5,837.5 601.0,841.1 601.2,844.7 601.3,848.3" stroke="#808080" stroke-width="1.8" fill="none" stroke-dasharray="1.8 3.2"/>
<path d="M394.7,848.3 394.7,848.2 394.7,848.0 394.7,847.6 394.8,847.1 394.9,846.4 395.0,845.6 395.1,844.6 395.4,843.5 395.6,842.3 396.0,840.9 396.4,839.4 396.9,837.8 397.5,836.1 398.2,834.2 399.0,832.2 399.9,830.2 400.9,828.0 402.0,825.7 403.3,823.4 404.6,821.0 406.1,818.5 407.7,816.0 409.5,813.4 411.4,810.8 413.4,808.1 415.6,805.4 417.9,802.7 420.4,800.0 423.0,797.2 425.7,794.5 428.6,791.8 431.6,789.1 434.8,786.5 438.1,783.9 441.5,781.4 445.1,778.9 448.7,776.5 452.6,774.1 456.5,771.8 460.6,769.7 464.7,767.6 469.0,765.6 473.4,763.8 477.8,762.1 482.4,760.5 487.0,759.0 491.7,757.7 496.5,756.5 501.3,755.5 506.2,754.6 511.1,753.9 516.0,753.3 521.0,753.0 526.0,752.7 531.0,752.7 536.0,752.8 541.0,753.1 545.9,753.6 550.9,754.3 555.8,755.1 560.6,756.2 565.4,757.4 570.1,758.8 574.7,760.3 579.3,762.1 583.8,764.0 588.1,766.1 592.4,768.3 596.5,770.7 600.5,773.3 604.3,776.0 608.0,778.9 611.6,781.9 615.0,785.0 618.2,788.3 621.2,791.7 624.1,795.2 626.8,798.9 629.3,802.6 631.5,806.5 633.6,810.4 635.5,814.4 637.2,818.5 638.6,822.6 639.9,826.8 640.9,831.1 641.7,835.3 642.2,839.6 642.6,844.0 642.7,848.3" stroke="#808080" stroke-width="1.8" fill="none" stroke-dasharray="1.8 3.2"/>
<path d="M394.7,848.3 394.7,848.2 394.7,847.9 394.7,847.5 394.8,846.9 394.9,846.1 395.0,845.2 395.2,844.0 395.5,842.7 395.8,841.3 396.2,839.7 396.7,837.9 397.3,836.0 398.0,834.0 398.8,831.8 399.7,829.5 400.8,827.1 401.9,824.6 403.2,822.0 404.7,819.3 406.3,816.4 408.0,813.6 409.9,810.6 412.0,807.6 414.2,804.5 416.5,801.4 419.1,798.2 421.8,795.1 424.6,791.9 427.7,788.7 430.9,785.6 434.2,782.4 437.8,779.3 441.4,776.2 445.3,773.2 449.3,770.2 453.4,767.3 457.8,764.5 462.2,761.7 466.8,759.1 471.5,756.6 476.4,754.2 481.4,751.9 486.5,749.7 491.7,747.7 497.0,745.8 502.4,744.1 507.9,742.6 513.4,741.2 519.1,740.0 524.7,739.0 530.5,738.2 536.3,737.5 542.1,737.1 547.9,736.8 553.7,736.8 559.5,736.9 565.4,737.3 571.1,737.9 576.9,738.6 582.6,739.6 588.3,740.8 593.8,742.2 599.3,743.9 604.8,745.7 610.1,747.7 615.3,749.9 620.3,752.4 625.3,755.0 630.1,757.8 634.8,760.8 639.2,764.0 643.6,767.3 647.7,770.8 651.7,774.5 655.4,778.3 659.0,782.3 662.3,786.4 665.4,790.7 668.3,795.0 671.0,799.5 673.4,804.1 675.6,808.7 677.6,813.5 679.3,818.3 680.7,823.2 681.9,828.2 682.8,833.2 683.5,838.2 683.9,843.2 684.0,848.3" stroke="#808080" stroke-width="1.8" fill="none" stroke-dasharray="1.8 3.2"/>
<path d="M436.03,848.30 A41.33,41.40 0 0 0 394.70,806.90" stroke="#000" stroke-width="2.2" fill="none"/>
</g>
<rect x="394.70" y="724.10" width="289.30" height="124.20" stroke="#3c3c3c" stroke-width="1.25" fill="none"/>
<rect x="638.47" y="846.80" width="8.4" height="2.0" fill="#e0142e"/>
<path d="M394.70,848.30v4.4M477.36,848.30v4.4M560.01,848.30v4.4M642.67,848.30v4.4M394.70,848.30h-4.4M394.70,806.90h-4.4M394.70,765.50h-4.4M394.70,724.10h-4.4" stroke="#222" stroke-width="1.1" fill="none"/>
<text x="389.95" y="870.10" font-family='"Liberation Sans",sans-serif' font-size="16" fill="#111">0</text>
<text x="472.61" y="870.10" font-family='"Liberation Sans",sans-serif' font-size="16" fill="#111">2</text>
<text x="555.32" y="870.10" font-family='"Liberation Sans",sans-serif' font-size="16" fill="#111">4</text>
<text x="637.87" y="870.10" font-family='"Liberation Sans",sans-serif' font-size="16" fill="#111">6</text>
<text x="376.23" y="855.50" font-family='"Liberation Sans",sans-serif' font-size="16" fill="#111">0</text>
<text x="376.38" y="814.10" font-family='"Liberation Sans",sans-serif' font-size="16" fill="#111">1</text>
<text x="376.41" y="772.70" font-family='"Liberation Sans",sans-serif' font-size="16" fill="#111">2</text>
<text x="376.30" y="731.30" font-family='"Liberation Sans",sans-serif' font-size="16" fill="#111">3</text>
<text transform="translate(365.30,787.10) rotate(-90)" x="-18.84" y="0" font-family='"Liberation Sans",sans-serif' font-size="16" fill="#111">Z[<tspan font-style="italic">R</tspan><tspan font-style="italic" font-size="11.20" dy="3.3">E</tspan><tspan dy="-3.3">]</tspan></text>
<text transform="translate(409.60,742.80) scale(1.200,1.000)" x="-0.62" y="0" font-family='"Liberation Serif",serif' font-size="14" font-style="italic" fill="#111">t</text>
<rect x="421.40" y="735.73" width="9.00" height="1.35" fill="#1a1a1a"/><rect x="421.40" y="739.42" width="9.00" height="1.35" fill="#1a1a1a"/>
<text transform="translate(437.10,742.80)" x="-0.92" y="0" font-family='"Liberation Serif",serif' font-size="14" font-style="italic" fill="#111">T</text>
<text transform="translate(444.70,745.60)" x="-0.36" y="0" font-family='"Liberation Serif",serif' font-size="9.5" fill="#111">0</text>
<path d="M451.10,745.60L456.30,733.80" stroke="#1a1a1a" stroke-width="1.15"/>
<text transform="translate(459.70,742.80)" x="-0.62" y="0" font-family='"Liberation Serif",serif' font-size="14" fill="#111">2</text>
<path d="M349.5,554.6 l1.2,-0.6 l1.2,0.6 l1.2,-0.6 l1.2,0.6 l1.2,-0.6" stroke="#e04040" stroke-width="0.6" fill="none" opacity="0.7"/>
<circle cx="520.7" cy="510.2" r="1.2" fill="#b8183a"/>
<text x="171.61" y="893.60" font-family='"Liberation Sans",sans-serif' font-size="16" fill="#111">X[<tspan font-style="italic">R</tspan><tspan font-style="italic" font-size="11.20" dy="3.3">E</tspan><tspan dy="-3.3">]</tspan></text><text x="519.91" y="893.60" font-family='"Liberation Sans",sans-serif' font-size="16" fill="#111">X[<tspan font-style="italic">R</tspan><tspan font-style="italic" font-size="11.20" dy="3.3">E</tspan><tspan dy="-3.3">]</tspan></text>
</svg>
</body></html>
